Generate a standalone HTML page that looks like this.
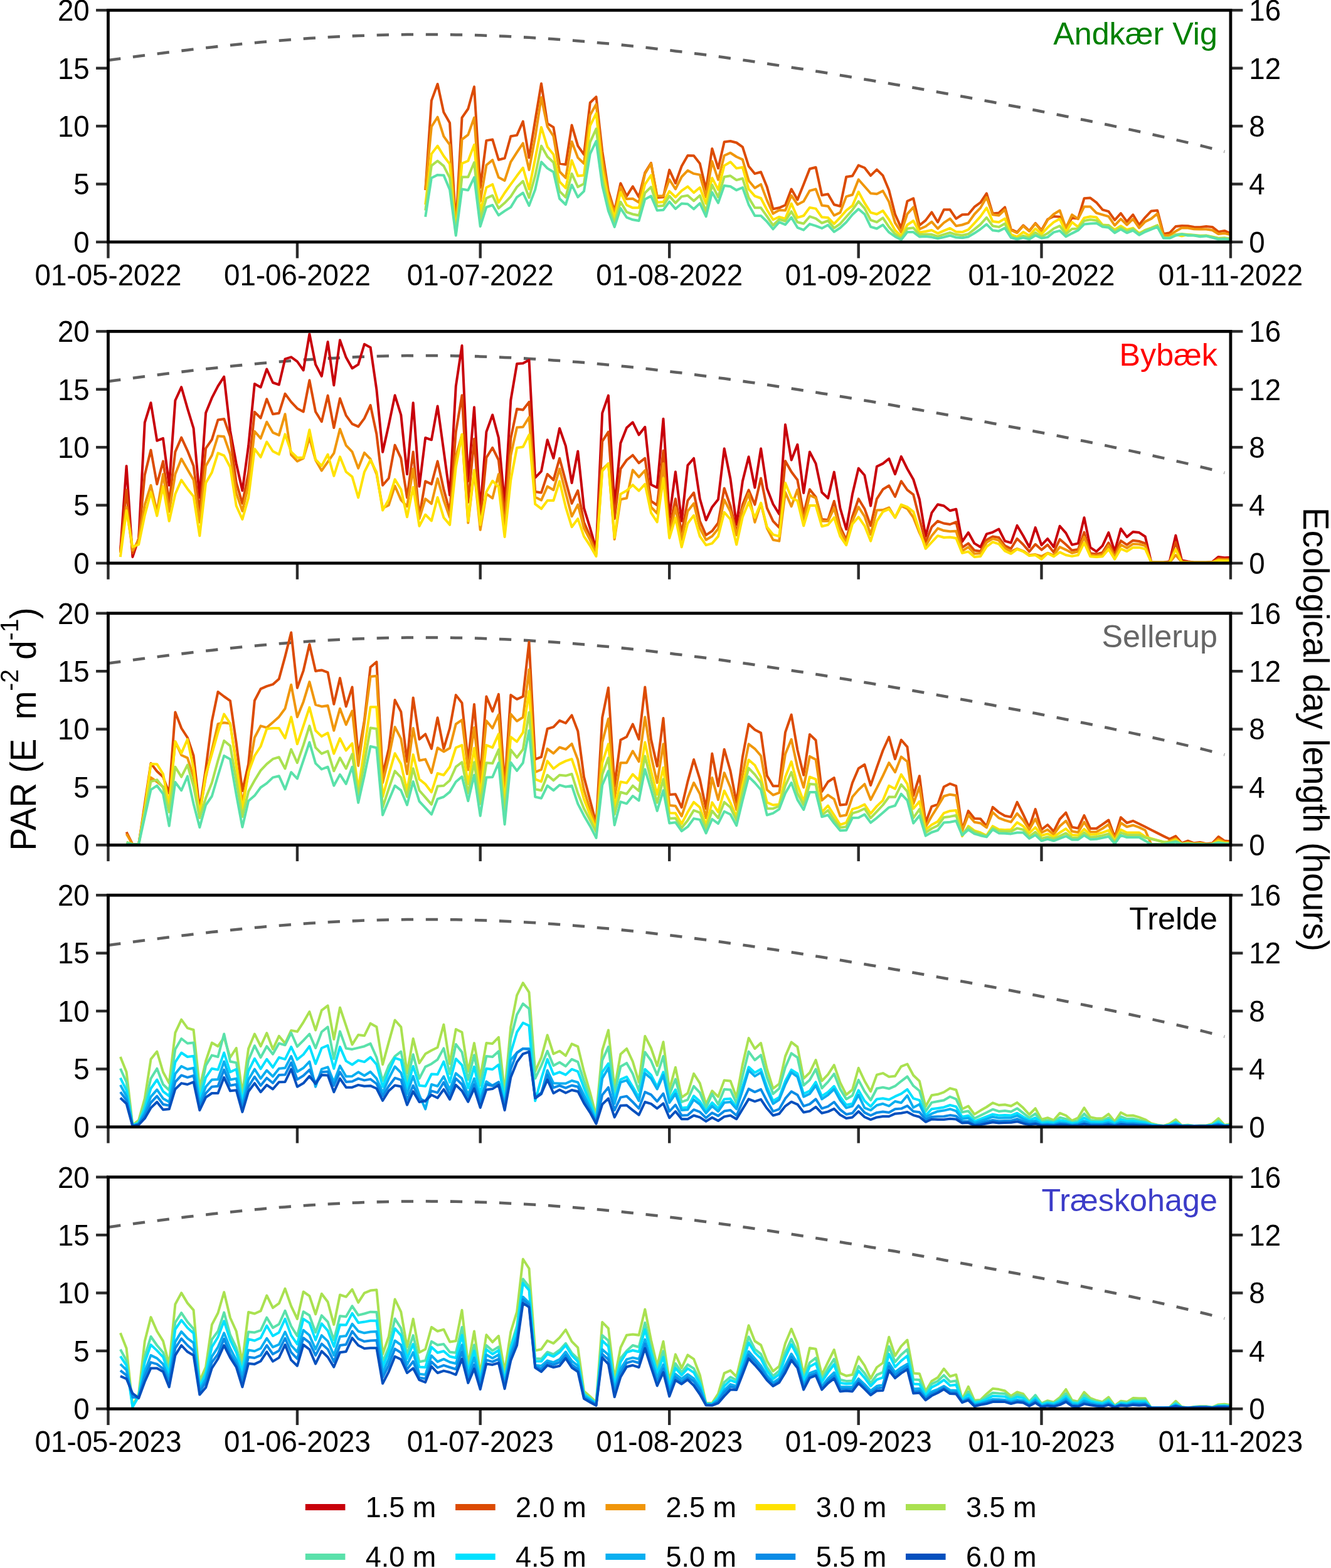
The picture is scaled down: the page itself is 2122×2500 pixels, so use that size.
<!DOCTYPE html>
<html lang="da"><head><meta charset="utf-8"><title>PAR og ecological day length</title>
<style>html,body{margin:0;padding:0;background:#fff}body{width:2122px;height:2500px;overflow:hidden}svg{display:block}text{font-family:"Liberation Sans",Arial,Helvetica,sans-serif;fill:#000}</style></head><body>
<svg width="2122" height="2500" viewBox="0 0 2122 2500">
<rect width="2122" height="2500" fill="#fff"/>
<g>
<clipPath id="c0"><rect x="172.45" y="16.3" width="1789.50" height="369.55"/></clipPath>
<polyline points="172.4,96.1 182.2,94.8 191.9,93.4 201.6,92.1 211.4,90.9 221.1,89.6 230.8,88.3 240.5,87.0 250.3,85.8 260.0,84.5 269.7,83.3 279.4,82.1 289.2,80.9 298.9,79.7 308.6,78.5 318.3,77.4 328.1,76.3 337.8,75.2 347.5,74.1 357.2,73.1 367.0,72.0 376.7,71.0 386.4,70.0 396.1,69.1 405.9,68.2 415.6,67.3 425.3,66.4 435.0,65.6 444.8,64.7 454.5,64.0 464.2,63.2 473.9,62.5 483.7,61.8 493.4,61.1 503.1,60.5 512.8,59.9 522.6,59.3 532.3,58.8 542.0,58.3 551.7,57.9 561.5,57.4 571.2,57.0 580.9,56.7 590.6,56.3 600.4,56.0 610.1,55.8 619.8,55.6 629.6,55.4 639.3,55.2 649.0,55.1 658.7,55.0 668.5,55.0 678.2,54.9 687.9,55.0 697.6,55.0 707.4,55.1 717.1,55.2 726.8,55.4 736.5,55.6 746.3,55.8 756.0,56.0 765.7,56.3 775.4,56.7 785.2,57.0 794.9,57.4 804.6,57.8 814.3,58.3 824.1,58.8 833.8,59.3 843.5,59.8 853.2,60.4 863.0,61.0 872.7,61.6 882.4,62.3 892.1,63.0 901.9,63.7 911.6,64.5 921.3,65.3 931.0,66.1 940.8,66.9 950.5,67.8 960.2,68.7 969.9,69.6 979.7,70.6 989.4,71.5 999.1,72.5 1008.8,73.6 1018.6,74.6 1028.3,75.7 1038.0,76.8 1047.7,77.9 1057.5,79.0 1067.2,80.2 1076.9,81.4 1086.7,82.6 1096.4,83.8 1106.1,85.1 1115.8,86.3 1125.6,87.6 1135.3,88.9 1145.0,90.2 1154.7,91.6 1164.5,92.9 1174.2,94.3 1183.9,95.7 1193.6,97.1 1203.4,98.5 1213.1,100.0 1222.8,101.4 1232.5,102.9 1242.3,104.4 1252.0,105.9 1261.7,107.4 1271.4,108.9 1281.2,110.4 1290.9,112.0 1300.6,113.5 1310.3,115.1 1320.1,116.7 1329.8,118.3 1339.5,119.9 1349.2,121.5 1359.0,123.1 1368.7,124.7 1378.4,126.4 1388.1,128.0 1397.9,129.7 1407.6,131.4 1417.3,133.0 1427.0,134.7 1436.8,136.4 1446.5,138.1 1456.2,139.8 1465.9,141.5 1475.7,143.3 1485.4,145.0 1495.1,146.7 1504.8,148.5 1514.6,150.3 1524.3,152.0 1534.0,153.8 1543.8,155.6 1553.5,157.4 1563.2,159.2 1572.9,161.0 1582.7,162.8 1592.4,164.7 1602.1,166.5 1611.8,168.4 1621.6,170.2 1631.3,172.1 1641.0,174.0 1650.7,175.8 1660.5,177.7 1670.2,179.6 1679.9,181.5 1689.6,183.5 1699.4,185.4 1709.1,187.4 1718.8,189.3 1728.5,191.3 1738.3,193.3 1748.0,195.3 1757.7,197.3 1767.4,199.3 1777.2,201.4 1786.9,203.4 1796.6,205.5 1806.3,207.6 1816.1,209.7 1825.8,211.8 1835.5,214.0 1845.2,216.2 1855.0,218.4 1864.7,220.6 1874.4,222.8 1884.1,225.1 1893.9,227.4 1903.6,229.7 1913.3,232.0 1923.0,234.4 1932.8,236.8 1942.5,239.3 1952.2,241.7" fill="none" stroke="#5f5f5f" stroke-width="4.55" stroke-dasharray="19.3 19.755" stroke-dashoffset="-0.8"/>
<g clip-path="url(#c0)" fill="none" stroke-width="4.0" stroke-linejoin="round">
<polyline points="678.2,303.2 687.9,160.4 697.6,134.0 707.4,179.1 717.1,196.1 726.8,360.2 736.5,187.6 746.3,173.5 756.0,138.3 765.7,299.0 775.4,224.1 785.2,222.4 794.9,254.8 804.6,252.2 814.3,217.3 824.1,215.6 833.8,193.5 843.5,251.4 853.2,191.8 863.0,133.2 872.7,196.9 882.4,202.9 892.1,260.7 901.9,262.4 911.6,199.5 921.3,232.6 931.0,246.3 940.8,163.8 950.5,154.4 960.2,241.2 969.9,304.1 979.7,336.4 989.4,292.2 999.1,312.6 1008.8,297.3 1018.6,314.3 1028.3,275.2 1038.0,259.9 1047.7,315.1 1057.5,314.3 1067.2,270.9 1076.9,292.2 1086.7,265.0 1096.4,248.0 1106.1,248.3 1115.8,260.7 1125.6,302.4 1135.3,236.9 1145.0,268.4 1154.7,226.2 1164.5,225.0 1174.2,227.5 1183.9,234.3 1193.6,265.0 1203.4,276.9 1213.1,274.3 1222.8,298.1 1232.5,333.3 1242.3,331.3 1252.0,327.0 1261.7,301.5 1271.4,318.5 1281.2,293.9 1290.9,269.2 1300.6,266.7 1310.3,311.2 1320.1,309.5 1329.8,326.2 1339.5,328.7 1349.2,282.0 1359.0,280.6 1368.7,263.6 1378.4,267.5 1388.1,279.9 1397.9,270.4 1407.6,279.9 1417.3,303.2 1427.0,341.5 1436.8,363.6 1446.5,320.8 1456.2,316.3 1465.9,359.3 1475.7,351.4 1485.4,338.4 1495.1,354.2 1504.8,334.3 1514.6,334.3 1524.3,348.6 1534.0,342.3 1543.8,341.8 1553.5,329.9 1563.2,322.8 1572.9,308.3 1582.7,340.6 1592.4,339.5 1602.1,330.4 1611.8,365.6 1621.6,370.4 1631.3,359.3 1641.0,367.9 1650.7,355.9 1660.5,367.0 1670.2,349.7 1679.9,344.9 1689.6,345.8 1699.4,361.9 1709.1,347.4 1718.8,348.6 1728.5,316.3 1738.3,315.6 1748.0,322.8 1757.7,334.3 1767.4,337.2 1777.2,350.8 1786.9,340.1 1796.6,353.4 1806.3,342.3 1816.1,358.5 1825.8,346.6 1835.5,336.4 1845.2,335.5 1855.0,373.0 1864.7,371.3 1874.4,361.0 1884.1,359.9 1893.9,360.2 1903.6,361.9 1913.3,362.2 1923.0,361.0 1932.8,361.9 1942.5,369.6 1952.2,367.9 1962.0,372.1" stroke="#DC4B03"/>
<polyline points="678.2,302.4 687.9,202.0 697.6,186.7 707.4,217.3 717.1,230.9 726.8,367.0 736.5,222.4 746.3,214.8 756.0,187.6 765.7,321.1 775.4,263.3 785.2,255.1 794.9,282.8 804.6,287.9 814.3,258.2 824.1,242.9 833.8,228.4 843.5,270.9 853.2,219.0 863.0,155.3 872.7,202.0 882.4,217.3 892.1,273.5 901.9,283.7 911.6,225.8 921.3,251.4 931.0,260.7 940.8,183.3 950.5,166.3 960.2,253.1 969.9,309.2 979.7,339.8 989.4,298.1 999.1,317.3 1008.8,316.8 1018.6,322.8 1028.3,276.9 1038.0,260.7 1047.7,312.6 1057.5,312.6 1067.2,286.2 1076.9,301.5 1086.7,282.0 1096.4,271.8 1106.1,276.9 1115.8,278.6 1125.6,314.3 1135.3,257.3 1145.0,286.7 1154.7,248.0 1164.5,243.7 1174.2,250.0 1183.9,254.4 1193.6,287.9 1203.4,299.8 1213.1,293.9 1222.8,319.4 1232.5,340.6 1242.3,335.0 1252.0,335.5 1261.7,311.7 1271.4,326.2 1281.2,321.1 1290.9,304.1 1300.6,301.5 1310.3,327.5 1320.1,328.7 1329.8,343.5 1339.5,338.9 1349.2,313.4 1359.0,310.5 1368.7,286.2 1378.4,297.3 1388.1,308.3 1397.9,309.2 1407.6,304.4 1417.3,321.9 1427.0,355.1 1436.8,370.4 1446.5,341.2 1456.2,330.4 1465.9,365.3 1475.7,361.0 1485.4,353.7 1495.1,364.5 1504.8,355.1 1514.6,348.6 1524.3,360.2 1534.0,358.5 1543.8,355.1 1553.5,341.5 1563.2,331.3 1572.9,314.6 1582.7,342.3 1592.4,343.5 1602.1,334.3 1611.8,367.0 1621.6,371.3 1631.3,360.2 1641.0,368.7 1650.7,356.5 1660.5,368.4 1670.2,350.8 1679.9,341.5 1689.6,335.5 1699.4,363.6 1709.1,342.3 1718.8,349.1 1728.5,329.6 1738.3,329.6 1748.0,339.5 1757.7,342.3 1767.4,345.2 1777.2,359.3 1786.9,349.1 1796.6,358.5 1806.3,349.1 1816.1,363.3 1825.8,353.4 1835.5,348.6 1845.2,340.6 1855.0,375.5 1864.7,374.7 1874.4,368.7 1884.1,363.3 1893.9,363.6 1903.6,365.3 1913.3,365.6 1923.0,365.6 1932.8,367.0 1942.5,373.0 1952.2,372.1 1962.0,374.1" stroke="#F0960A"/>
<polyline points="678.2,326.2 687.9,245.4 697.6,232.6 707.4,248.8 717.1,261.6 726.8,370.4 736.5,260.7 746.3,256.5 756.0,230.9 765.7,338.1 775.4,299.0 785.2,293.9 794.9,322.8 804.6,307.5 814.3,293.9 824.1,280.3 833.8,267.5 843.5,301.5 853.2,253.1 863.0,202.9 872.7,234.3 882.4,246.3 892.1,289.6 901.9,299.8 911.6,255.6 921.3,280.6 931.0,279.4 940.8,200.3 950.5,180.8 960.2,270.1 969.9,317.7 979.7,346.6 989.4,306.6 999.1,327.0 1008.8,331.3 1018.6,331.3 1028.3,293.9 1038.0,279.4 1047.7,322.8 1057.5,321.9 1067.2,304.9 1076.9,314.3 1086.7,304.1 1096.4,297.3 1106.1,307.1 1115.8,299.0 1125.6,324.5 1135.3,283.7 1145.0,302.4 1154.7,264.1 1164.5,258.2 1174.2,268.4 1183.9,266.7 1193.6,301.5 1203.4,312.6 1213.1,316.0 1222.8,334.7 1232.5,350.3 1242.3,345.8 1252.0,348.6 1261.7,324.5 1271.4,346.9 1281.2,344.0 1290.9,330.9 1300.6,332.6 1310.3,346.3 1320.1,346.9 1329.8,356.8 1339.5,346.6 1349.2,335.5 1359.0,327.9 1368.7,305.8 1378.4,323.6 1388.1,338.9 1397.9,341.5 1407.6,336.0 1417.3,350.0 1427.0,367.0 1436.8,376.4 1446.5,358.5 1456.2,352.0 1465.9,370.4 1475.7,369.0 1485.4,367.0 1495.1,372.1 1504.8,367.9 1514.6,363.9 1524.3,369.6 1534.0,370.1 1543.8,366.2 1553.5,355.9 1563.2,345.2 1572.9,331.3 1582.7,353.1 1592.4,354.2 1602.1,348.6 1611.8,373.8 1621.6,377.5 1631.3,370.1 1641.0,375.5 1650.7,364.5 1660.5,373.0 1670.2,362.8 1679.9,354.2 1689.6,349.1 1699.4,370.4 1709.1,354.2 1718.8,361.9 1728.5,347.4 1738.3,345.2 1748.0,346.6 1757.7,358.5 1767.4,359.3 1777.2,366.2 1786.9,360.2 1796.6,366.2 1806.3,363.6 1816.1,372.1 1825.8,367.0 1835.5,363.3 1845.2,359.3 1855.0,378.6 1864.7,378.9 1874.4,374.1 1884.1,376.4 1893.9,374.1 1903.6,375.2 1913.3,376.4 1923.0,375.8 1932.8,378.1 1942.5,380.3 1952.2,379.8 1962.0,381.5" stroke="#FFE200"/>
<polyline points="678.2,335.5 687.9,264.1 697.6,256.5 707.4,264.6 717.1,283.7 726.8,373.0 736.5,282.3 746.3,282.3 756.0,259.0 765.7,350.0 775.4,316.0 785.2,311.7 794.9,332.1 804.6,323.6 814.3,313.4 824.1,298.1 833.8,288.8 843.5,315.1 853.2,280.3 863.0,232.6 872.7,249.7 882.4,259.0 892.1,304.9 901.9,314.6 911.6,276.9 921.3,298.1 931.0,293.0 940.8,226.7 950.5,205.4 960.2,283.7 969.9,327.9 979.7,355.1 989.4,321.9 999.1,338.1 1008.8,341.5 1018.6,343.5 1028.3,307.5 1038.0,298.1 1047.7,328.7 1057.5,327.9 1067.2,312.6 1076.9,323.6 1086.7,313.4 1096.4,311.7 1106.1,320.2 1115.8,311.7 1125.6,337.2 1135.3,294.7 1145.0,314.3 1154.7,282.0 1164.5,280.3 1174.2,287.1 1183.9,284.5 1193.6,315.1 1203.4,331.3 1213.1,331.3 1222.8,344.9 1232.5,359.3 1242.3,349.7 1252.0,352.5 1261.7,337.2 1271.4,354.2 1281.2,356.5 1290.9,345.2 1300.6,348.3 1310.3,355.6 1320.1,352.0 1329.8,363.6 1339.5,356.8 1349.2,345.8 1359.0,334.7 1368.7,321.1 1378.4,332.1 1388.1,350.8 1397.9,354.2 1407.6,347.4 1417.3,361.9 1427.0,373.0 1436.8,379.8 1446.5,364.5 1456.2,363.3 1465.9,374.1 1475.7,373.5 1485.4,373.8 1495.1,376.9 1504.8,373.8 1514.6,370.8 1524.3,374.1 1534.0,375.2 1543.8,373.0 1553.5,365.6 1563.2,357.6 1572.9,346.9 1582.7,360.2 1592.4,361.9 1602.1,356.5 1611.8,376.9 1621.6,380.3 1631.3,375.8 1641.0,378.9 1650.7,370.8 1660.5,377.2 1670.2,372.1 1679.9,364.5 1689.6,360.2 1699.4,373.0 1709.1,365.0 1718.8,364.5 1728.5,352.0 1738.3,350.3 1748.0,351.4 1757.7,359.3 1767.4,359.3 1777.2,368.4 1786.9,362.8 1796.6,368.4 1806.3,364.5 1816.1,373.0 1825.8,367.0 1835.5,363.6 1845.2,359.3 1855.0,378.9 1864.7,378.9 1874.4,374.1 1884.1,373.0 1893.9,374.1 1903.6,374.7 1913.3,375.8 1923.0,375.5 1932.8,377.5 1942.5,379.8 1952.2,379.2 1962.0,380.9" stroke="#AAE150"/>
<polyline points="678.2,345.8 687.9,283.7 697.6,278.9 707.4,279.4 717.1,302.4 726.8,375.5 736.5,301.5 746.3,303.2 756.0,282.8 765.7,361.0 775.4,330.4 785.2,327.0 794.9,343.2 804.6,336.4 814.3,330.4 824.1,314.3 833.8,307.5 843.5,327.9 853.2,302.4 863.0,258.2 872.7,268.4 882.4,274.3 892.1,316.8 901.9,326.2 911.6,294.7 921.3,314.3 931.0,304.9 940.8,245.4 950.5,225.0 960.2,295.6 969.9,336.4 979.7,361.9 989.4,332.1 999.1,346.6 1008.8,350.3 1018.6,352.0 1028.3,317.7 1038.0,312.6 1047.7,335.5 1057.5,334.7 1067.2,321.6 1076.9,333.0 1086.7,324.5 1096.4,325.3 1106.1,333.3 1115.8,324.1 1125.6,345.2 1135.3,306.6 1145.0,323.6 1154.7,295.9 1164.5,297.3 1174.2,303.2 1183.9,299.0 1193.6,326.2 1203.4,344.0 1213.1,344.0 1222.8,353.4 1232.5,365.3 1242.3,354.2 1252.0,358.2 1261.7,346.6 1271.4,362.8 1281.2,366.7 1290.9,357.1 1300.6,360.2 1310.3,363.9 1320.1,358.8 1329.8,369.6 1339.5,363.3 1349.2,354.2 1359.0,342.3 1368.7,333.3 1378.4,341.5 1388.1,361.6 1397.9,364.5 1407.6,358.5 1417.3,370.4 1427.0,377.2 1436.8,382.3 1446.5,370.1 1456.2,370.1 1465.9,377.5 1475.7,376.9 1485.4,378.1 1495.1,380.3 1504.8,378.1 1514.6,375.5 1524.3,378.6 1534.0,379.2 1543.8,377.5 1553.5,371.8 1563.2,365.3 1572.9,357.6 1582.7,367.3 1592.4,368.4 1602.1,363.6 1611.8,378.9 1621.6,381.5 1631.3,378.9 1641.0,381.5 1650.7,375.2 1660.5,379.8 1670.2,378.1 1679.9,370.4 1689.6,367.9 1699.4,377.2 1709.1,372.1 1718.8,367.3 1728.5,357.6 1738.3,356.5 1748.0,355.9 1757.7,361.6 1767.4,362.8 1777.2,371.3 1786.9,365.6 1796.6,371.3 1806.3,367.3 1816.1,374.7 1825.8,369.6 1835.5,365.6 1845.2,361.9 1855.0,379.8 1864.7,379.8 1874.4,375.5 1884.1,373.5 1893.9,375.5 1903.6,375.5 1913.3,377.2 1923.0,376.4 1932.8,378.9 1942.5,381.5 1952.2,380.9 1962.0,382.3" stroke="#5AE1AA"/>
</g>
<line x1="153.05" y1="385.85" x2="172.45" y2="385.85" stroke="#2b2b2b" stroke-width="4.4"/>
<line x1="1961.95" y1="385.85" x2="1981.45" y2="385.85" stroke="#2b2b2b" stroke-width="4.4"/>
<text transform="translate(142.70,402.70) scale(1,1.05)" font-size="45.7" text-anchor="end">0</text>
<text transform="translate(1991.35,402.70) scale(1,1.05)" font-size="45.7">0</text>
<line x1="153.05" y1="293.46" x2="172.45" y2="293.46" stroke="#2b2b2b" stroke-width="4.4"/>
<line x1="1961.95" y1="293.46" x2="1981.45" y2="293.46" stroke="#2b2b2b" stroke-width="4.4"/>
<text transform="translate(142.70,310.31) scale(1,1.05)" font-size="45.7" text-anchor="end">5</text>
<text transform="translate(1991.35,310.31) scale(1,1.05)" font-size="45.7">4</text>
<line x1="153.05" y1="201.08" x2="172.45" y2="201.08" stroke="#2b2b2b" stroke-width="4.4"/>
<line x1="1961.95" y1="201.08" x2="1981.45" y2="201.08" stroke="#2b2b2b" stroke-width="4.4"/>
<text transform="translate(142.70,217.93) scale(1,1.05)" font-size="45.7" text-anchor="end">10</text>
<text transform="translate(1991.35,217.93) scale(1,1.05)" font-size="45.7">8</text>
<line x1="153.05" y1="108.69" x2="172.45" y2="108.69" stroke="#2b2b2b" stroke-width="4.4"/>
<line x1="1961.95" y1="108.69" x2="1981.45" y2="108.69" stroke="#2b2b2b" stroke-width="4.4"/>
<text transform="translate(142.70,125.54) scale(1,1.05)" font-size="45.7" text-anchor="end">15</text>
<text transform="translate(1991.35,125.54) scale(1,1.05)" font-size="45.7">12</text>
<line x1="153.05" y1="16.30" x2="172.45" y2="16.30" stroke="#2b2b2b" stroke-width="4.4"/>
<line x1="1961.95" y1="16.30" x2="1981.45" y2="16.30" stroke="#2b2b2b" stroke-width="4.4"/>
<text transform="translate(142.70,33.15) scale(1,1.05)" font-size="45.7" text-anchor="end">20</text>
<text transform="translate(1991.35,33.15) scale(1,1.05)" font-size="45.7">16</text>
<line x1="172.45" y1="385.85" x2="172.45" y2="411.65" stroke="#2b2b2b" stroke-width="4.4"/>
<line x1="473.94" y1="385.85" x2="473.94" y2="411.65" stroke="#2b2b2b" stroke-width="4.4"/>
<line x1="765.71" y1="385.85" x2="765.71" y2="411.65" stroke="#2b2b2b" stroke-width="4.4"/>
<line x1="1067.20" y1="385.85" x2="1067.20" y2="411.65" stroke="#2b2b2b" stroke-width="4.4"/>
<line x1="1368.69" y1="385.85" x2="1368.69" y2="411.65" stroke="#2b2b2b" stroke-width="4.4"/>
<line x1="1660.46" y1="385.85" x2="1660.46" y2="411.65" stroke="#2b2b2b" stroke-width="4.4"/>
<line x1="1961.95" y1="385.85" x2="1961.95" y2="411.65" stroke="#2b2b2b" stroke-width="4.4"/>
<rect x="172.45" y="16.3" width="1789.50" height="369.55" fill="none" stroke="#000" stroke-width="4.8"/>
<text transform="translate(1941.00,70.60)" font-size="50.3" text-anchor="end" style="fill:#008000">Andkær Vig</text>
<text transform="translate(172.45,454.75) scale(1,1.05)" font-size="45.7" text-anchor="middle">01-05-2022</text>
<text transform="translate(473.94,454.75) scale(1,1.05)" font-size="45.7" text-anchor="middle">01-06-2022</text>
<text transform="translate(765.71,454.75) scale(1,1.05)" font-size="45.7" text-anchor="middle">01-07-2022</text>
<text transform="translate(1067.20,454.75) scale(1,1.05)" font-size="45.7" text-anchor="middle">01-08-2022</text>
<text transform="translate(1368.69,454.75) scale(1,1.05)" font-size="45.7" text-anchor="middle">01-09-2022</text>
<text transform="translate(1660.46,454.75) scale(1,1.05)" font-size="45.7" text-anchor="middle">01-10-2022</text>
<text transform="translate(1961.95,454.75) scale(1,1.05)" font-size="45.7" text-anchor="middle">01-11-2022</text>
</g>
<g>
<clipPath id="c1"><rect x="172.45" y="528.35" width="1789.50" height="369.55"/></clipPath>
<polyline points="172.4,608.1 182.2,606.8 191.9,605.5 201.6,604.2 211.4,602.9 221.1,601.6 230.8,600.3 240.5,599.1 250.3,597.8 260.0,596.6 269.7,595.3 279.4,594.1 289.2,592.9 298.9,591.8 308.6,590.6 318.3,589.5 328.1,588.3 337.8,587.2 347.5,586.2 357.2,585.1 367.0,584.1 376.7,583.1 386.4,582.1 396.1,581.1 405.9,580.2 415.6,579.3 425.3,578.4 435.0,577.6 444.8,576.8 454.5,576.0 464.2,575.3 473.9,574.5 483.7,573.8 493.4,573.2 503.1,572.6 512.8,572.0 522.6,571.4 532.3,570.9 542.0,570.4 551.7,569.9 561.5,569.5 571.2,569.1 580.9,568.7 590.6,568.4 600.4,568.1 610.1,567.8 619.8,567.6 629.6,567.4 639.3,567.3 649.0,567.1 658.7,567.1 668.5,567.0 678.2,567.0 687.9,567.0 697.6,567.1 707.4,567.2 717.1,567.3 726.8,567.4 736.5,567.6 746.3,567.8 756.0,568.1 765.7,568.4 775.4,568.7 785.2,569.1 794.9,569.4 804.6,569.9 814.3,570.3 824.1,570.8 833.8,571.3 843.5,571.9 853.2,572.4 863.0,573.1 872.7,573.7 882.4,574.4 892.1,575.1 901.9,575.8 911.6,576.6 921.3,577.3 931.0,578.1 940.8,579.0 950.5,579.9 960.2,580.8 969.9,581.7 979.7,582.6 989.4,583.6 999.1,584.6 1008.8,585.6 1018.6,586.7 1028.3,587.7 1038.0,588.8 1047.7,590.0 1057.5,591.1 1067.2,592.3 1076.9,593.4 1086.7,594.6 1096.4,595.9 1106.1,597.1 1115.8,598.4 1125.6,599.7 1135.3,601.0 1145.0,602.3 1154.7,603.6 1164.5,605.0 1174.2,606.4 1183.9,607.8 1193.6,609.2 1203.4,610.6 1213.1,612.0 1222.8,613.5 1232.5,614.9 1242.3,616.4 1252.0,617.9 1261.7,619.4 1271.4,620.9 1281.2,622.5 1290.9,624.0 1300.6,625.6 1310.3,627.2 1320.1,628.7 1329.8,630.3 1339.5,631.9 1349.2,633.5 1359.0,635.2 1368.7,636.8 1378.4,638.4 1388.1,640.1 1397.9,641.7 1407.6,643.4 1417.3,645.1 1427.0,646.8 1436.8,648.5 1446.5,650.2 1456.2,651.9 1465.9,653.6 1475.7,655.3 1485.4,657.0 1495.1,658.8 1504.8,660.5 1514.6,662.3 1524.3,664.1 1534.0,665.9 1543.8,667.7 1553.5,669.5 1563.2,671.3 1572.9,673.1 1582.7,674.9 1592.4,676.7 1602.1,678.6 1611.8,680.4 1621.6,682.3 1631.3,684.1 1641.0,686.0 1650.7,687.9 1660.5,689.8 1670.2,691.7 1679.9,693.6 1689.6,695.5 1699.4,697.5 1709.1,699.4 1718.8,701.4 1728.5,703.3 1738.3,705.3 1748.0,707.3 1757.7,709.3 1767.4,711.4 1777.2,713.4 1786.9,715.5 1796.6,717.5 1806.3,719.6 1816.1,721.7 1825.8,723.9 1835.5,726.0 1845.2,728.2 1855.0,730.4 1864.7,732.6 1874.4,734.9 1884.1,737.1 1893.9,739.4 1903.6,741.7 1913.3,744.1 1923.0,746.5 1932.8,748.9 1942.5,751.3 1952.2,753.8" fill="none" stroke="#5f5f5f" stroke-width="4.55" stroke-dasharray="19.3 19.755" stroke-dashoffset="-0.8"/>
<g clip-path="url(#c1)" fill="none" stroke-width="4.0" stroke-linejoin="round">
<polyline points="191.9,878.5 201.6,742.9 211.4,887.9 221.1,858.9 230.8,673.7 240.5,642.2 250.3,702.7 260.0,698.9 269.7,773.7 279.4,638.5 289.2,617.2 298.9,651.2 308.6,683.0 318.3,793.4 328.1,658.3 337.8,634.4 347.5,615.7 357.2,600.7 367.0,686.8 376.7,739.1 386.4,782.2 396.1,711.1 405.9,611.9 415.6,617.5 425.3,588.5 435.0,610.0 444.8,613.4 454.5,572.3 464.2,569.3 473.9,576.4 483.7,590.4 493.4,532.4 503.1,581.1 512.8,599.8 522.6,545.0 532.3,614.2 542.0,542.3 551.7,569.8 561.5,587.2 571.2,581.1 580.9,548.7 590.6,553.9 600.4,621.3 610.1,720.8 619.8,677.4 629.6,630.3 639.3,661.5 649.0,756.0 658.7,642.2 668.5,775.6 678.2,698.0 687.9,701.3 697.6,647.5 707.4,718.6 717.1,789.6 726.8,615.7 736.5,551.1 746.3,767.2 756.0,649.3 765.7,815.8 775.4,688.6 785.2,661.5 794.9,698.0 804.6,804.6 814.3,638.1 824.1,580.1 833.8,579.2 843.5,574.1 853.2,761.6 863.0,751.3 872.7,701.3 882.4,730.7 892.1,683.0 901.9,711.1 911.6,770.0 921.3,719.5 931.0,810.2 940.8,842.0 950.5,875.7 960.2,658.7 969.9,630.6 979.7,808.4 989.4,706.4 999.1,682.1 1008.8,673.3 1018.6,693.3 1028.3,680.8 1038.0,772.8 1047.7,777.5 1057.5,667.7 1067.2,825.2 1076.9,752.2 1086.7,830.8 1096.4,741.9 1106.1,730.7 1115.8,795.3 1125.6,829.3 1135.3,808.4 1145.0,796.2 1154.7,715.2 1164.5,763.5 1174.2,836.4 1183.9,767.2 1193.6,728.3 1203.4,777.5 1213.1,715.2 1222.8,778.8 1232.5,803.7 1242.3,819.6 1252.0,677.0 1261.7,733.5 1271.4,708.8 1281.2,785.9 1290.9,720.4 1300.6,739.1 1310.3,785.0 1320.1,794.3 1329.8,752.6 1339.5,810.2 1349.2,843.9 1359.0,787.8 1368.7,746.6 1378.4,757.8 1388.1,806.5 1397.9,743.8 1407.6,739.1 1417.3,731.3 1427.0,756.0 1436.8,727.9 1446.5,747.5 1456.2,764.4 1465.9,796.2 1475.7,855.1 1485.4,817.7 1495.1,804.2 1504.8,806.5 1514.6,814.3 1524.3,811.7 1534.0,863.5 1543.8,849.1 1553.5,866.4 1563.2,872.3 1572.9,851.4 1582.7,848.6 1592.4,843.5 1602.1,862.6 1611.8,865.4 1621.6,837.9 1631.3,854.2 1641.0,872.3 1650.7,841.1 1660.5,869.1 1670.2,858.9 1679.9,872.0 1689.6,838.7 1699.4,849.9 1709.1,868.6 1718.8,866.4 1728.5,825.2 1738.3,872.9 1748.0,879.4 1757.7,870.1 1767.4,849.1 1777.2,879.1 1786.9,843.0 1796.6,856.1 1806.3,848.0 1816.1,849.1 1825.8,855.5 1835.5,896.8 1845.2,896.8 1855.0,896.8 1864.7,895.3 1874.4,853.6 1884.1,893.5 1893.9,895.3 1903.6,896.8 1913.3,896.8 1923.0,896.8 1932.8,895.9 1942.5,887.9 1952.2,889.2 1962.0,888.8" stroke="#C8000A"/>
<polyline points="191.9,879.4 201.6,781.2 211.4,882.2 221.1,858.9 230.8,756.9 240.5,717.6 250.3,771.9 260.0,735.4 269.7,800.9 279.4,720.4 289.2,697.6 298.9,718.6 308.6,742.9 318.3,815.8 328.1,714.8 337.8,700.8 347.5,669.5 357.2,668.0 367.0,696.1 376.7,769.1 386.4,802.7 396.1,754.1 405.9,656.8 415.6,666.5 425.3,636.2 435.0,660.2 444.8,658.7 454.5,627.8 464.2,640.9 473.9,651.2 483.7,656.5 493.4,606.3 503.1,656.5 512.8,672.2 522.6,630.6 532.3,682.1 542.0,635.3 551.7,662.4 561.5,675.9 571.2,680.2 580.9,667.1 590.6,646.0 600.4,692.4 610.1,773.7 619.8,762.5 629.6,709.6 639.3,730.7 649.0,793.4 658.7,720.4 668.5,823.3 678.2,767.2 687.9,771.9 697.6,735.4 707.4,780.3 717.1,815.8 726.8,688.6 736.5,630.3 746.3,800.9 756.0,699.8 765.7,830.8 775.4,729.8 785.2,713.9 794.9,733.5 804.6,823.3 814.3,698.9 824.1,652.1 833.8,653.5 843.5,640.9 853.2,784.0 863.0,785.5 872.7,756.0 882.4,765.3 892.1,730.7 901.9,767.2 911.6,802.7 921.3,782.2 931.0,832.7 940.8,855.1 950.5,879.4 960.2,703.6 969.9,688.6 979.7,827.1 989.4,747.5 999.1,733.5 1008.8,725.7 1018.6,738.2 1028.3,730.7 1038.0,799.0 1047.7,805.5 1057.5,718.6 1067.2,842.0 1076.9,795.3 1086.7,849.5 1096.4,798.1 1106.1,785.5 1115.8,830.8 1125.6,853.2 1135.3,846.7 1145.0,833.6 1154.7,778.4 1164.5,806.5 1174.2,849.5 1183.9,804.6 1193.6,781.2 1203.4,804.6 1213.1,762.5 1222.8,810.2 1232.5,830.8 1242.3,841.1 1252.0,735.0 1261.7,752.2 1271.4,765.3 1281.2,819.6 1290.9,780.3 1300.6,792.4 1310.3,828.0 1320.1,828.9 1329.8,799.0 1339.5,840.2 1349.2,860.7 1359.0,823.3 1368.7,795.3 1378.4,811.2 1388.1,838.3 1397.9,795.3 1407.6,780.3 1417.3,774.3 1427.0,791.9 1436.8,767.2 1446.5,781.2 1456.2,788.7 1465.9,827.1 1475.7,864.5 1485.4,840.2 1495.1,830.8 1504.8,834.5 1514.6,836.0 1524.3,832.3 1534.0,872.9 1543.8,866.4 1553.5,877.6 1563.2,879.1 1572.9,860.7 1582.7,855.5 1592.4,857.0 1602.1,870.1 1611.8,874.8 1621.6,858.9 1631.3,868.2 1641.0,879.4 1650.7,867.8 1660.5,876.6 1670.2,868.6 1679.9,880.4 1689.6,859.8 1699.4,868.2 1709.1,877.6 1718.8,876.1 1728.5,848.6 1738.3,882.2 1748.0,883.6 1757.7,880.9 1767.4,865.4 1777.2,884.1 1786.9,862.2 1796.6,868.6 1806.3,861.7 1816.1,863.0 1825.8,866.4 1835.5,896.8 1845.2,896.8 1855.0,896.8 1864.7,896.3 1874.4,864.5 1884.1,895.3 1893.9,896.3 1903.6,896.8 1913.3,896.8 1923.0,896.8 1932.8,896.3 1942.5,890.3 1952.2,891.0 1962.0,890.7" stroke="#DC4B03"/>
<polyline points="191.9,881.3 201.6,808.4 211.4,877.6 221.1,860.7 230.8,804.6 240.5,773.7 250.3,815.8 260.0,756.0 269.7,815.8 279.4,756.0 289.2,731.6 298.9,748.5 308.6,765.3 318.3,832.7 328.1,742.9 337.8,726.0 347.5,695.2 357.2,696.1 367.0,724.2 376.7,785.9 386.4,814.9 396.1,772.8 405.9,687.7 415.6,698.9 425.3,672.7 435.0,689.6 444.8,693.9 454.5,660.2 464.2,725.1 473.9,735.4 483.7,730.7 493.4,698.0 503.1,733.5 512.8,750.4 522.6,736.3 532.3,722.7 542.0,684.0 551.7,710.1 561.5,720.4 571.2,746.6 580.9,721.9 590.6,732.0 600.4,756.0 610.1,810.2 619.8,805.5 629.6,774.7 639.3,797.1 649.0,807.4 658.7,747.5 668.5,827.1 678.2,795.3 687.9,803.1 697.6,763.1 707.4,797.5 717.1,825.2 726.8,727.9 736.5,693.3 746.3,833.6 756.0,751.3 765.7,844.8 775.4,787.4 785.2,794.3 794.9,756.0 804.6,842.0 814.3,726.0 824.1,681.5 833.8,680.8 843.5,665.2 853.2,792.4 863.0,797.5 872.7,775.6 882.4,781.2 892.1,747.5 901.9,785.9 911.6,823.3 921.3,804.6 931.0,842.0 940.8,860.7 950.5,883.2 960.2,748.5 969.9,739.1 979.7,859.8 989.4,796.2 999.1,794.3 1008.8,749.4 1018.6,760.6 1028.3,750.0 1038.0,808.4 1047.7,818.6 1057.5,739.1 1067.2,853.2 1076.9,809.3 1086.7,860.7 1096.4,814.9 1106.1,802.7 1115.8,842.0 1125.6,860.7 1135.3,855.1 1145.0,843.0 1154.7,796.8 1164.5,815.8 1174.2,853.2 1183.9,812.1 1193.6,786.8 1203.4,832.7 1213.1,802.7 1222.8,842.0 1232.5,860.7 1242.3,862.6 1252.0,785.0 1261.7,807.4 1271.4,780.7 1281.2,830.8 1290.9,789.6 1300.6,793.8 1310.3,830.8 1320.1,830.8 1329.8,810.2 1339.5,845.8 1349.2,864.5 1359.0,830.8 1368.7,808.4 1378.4,823.3 1388.1,852.3 1397.9,813.6 1407.6,813.0 1417.3,809.3 1427.0,825.2 1436.8,806.5 1446.5,811.2 1456.2,825.2 1465.9,849.5 1475.7,870.1 1485.4,854.2 1495.1,842.4 1504.8,846.1 1514.6,847.3 1524.3,846.7 1534.0,878.5 1543.8,872.3 1553.5,882.8 1563.2,882.2 1572.9,864.9 1582.7,858.9 1592.4,861.7 1602.1,873.8 1611.8,879.4 1621.6,874.8 1631.3,878.5 1641.0,885.0 1650.7,884.1 1660.5,886.9 1670.2,881.7 1679.9,885.4 1689.6,872.0 1699.4,876.6 1709.1,881.7 1718.8,879.4 1728.5,856.1 1738.3,885.0 1748.0,886.0 1757.7,884.1 1767.4,869.7 1777.2,887.9 1786.9,868.6 1796.6,873.8 1806.3,867.3 1816.1,867.8 1825.8,870.1 1835.5,896.8 1845.2,896.8 1855.0,896.8 1864.7,896.6 1874.4,885.0 1884.1,896.3 1893.9,896.6 1903.6,896.8 1913.3,896.8 1923.0,896.8 1932.8,896.6 1942.5,892.2 1952.2,892.5 1962.0,892.5" stroke="#F0960A"/>
<polyline points="191.9,887.9 201.6,814.0 211.4,872.0 221.1,868.2 230.8,821.4 240.5,785.0 250.3,822.4 260.0,775.6 269.7,830.8 279.4,787.8 289.2,765.3 298.9,779.4 308.6,791.5 318.3,854.2 328.1,770.0 337.8,753.2 347.5,722.3 357.2,726.4 367.0,744.8 376.7,806.5 386.4,828.0 396.1,793.4 405.9,715.8 415.6,728.8 425.3,704.5 435.0,719.5 444.8,724.5 454.5,692.4 464.2,720.4 473.9,729.8 483.7,729.8 493.4,685.3 503.1,732.6 512.8,742.9 522.6,724.5 532.3,758.8 542.0,728.3 551.7,752.2 561.5,760.1 571.2,793.4 580.9,752.6 590.6,733.5 600.4,753.2 610.1,813.6 619.8,796.2 629.6,764.4 639.3,780.3 649.0,824.3 658.7,776.9 668.5,838.7 678.2,820.5 687.9,830.4 697.6,793.0 707.4,825.2 717.1,836.8 726.8,744.8 736.5,692.4 746.3,830.8 756.0,749.4 765.7,836.8 775.4,784.4 785.2,766.8 794.9,776.2 804.6,856.1 814.3,765.3 824.1,713.9 833.8,712.6 843.5,693.3 853.2,803.7 863.0,811.2 872.7,798.1 882.4,798.1 892.1,767.2 901.9,808.4 911.6,840.2 921.3,827.1 931.0,855.1 940.8,870.1 950.5,886.9 960.2,751.3 969.9,739.1 979.7,857.0 989.4,787.8 999.1,782.2 1008.8,773.2 1018.6,782.5 1028.3,771.9 1038.0,817.7 1047.7,832.3 1057.5,762.5 1067.2,857.9 1076.9,825.6 1086.7,872.3 1096.4,834.5 1106.1,821.8 1115.8,855.1 1125.6,869.1 1135.3,866.4 1145.0,855.1 1154.7,816.8 1164.5,828.0 1174.2,868.2 1183.9,824.3 1193.6,800.9 1203.4,825.2 1213.1,801.8 1222.8,840.2 1232.5,852.3 1242.3,855.1 1252.0,770.0 1261.7,793.4 1271.4,798.6 1281.2,838.3 1290.9,806.1 1300.6,806.1 1310.3,839.2 1320.1,836.8 1329.8,825.2 1339.5,855.1 1349.2,869.1 1359.0,835.5 1368.7,824.3 1378.4,838.3 1388.1,862.6 1397.9,830.8 1407.6,815.8 1417.3,811.7 1427.0,825.2 1436.8,804.6 1446.5,808.4 1456.2,815.8 1465.9,845.8 1475.7,874.8 1485.4,864.5 1495.1,854.2 1504.8,857.0 1514.6,856.6 1524.3,857.9 1534.0,881.7 1543.8,879.4 1553.5,887.9 1563.2,886.9 1572.9,871.6 1582.7,864.1 1592.4,867.3 1602.1,878.5 1611.8,882.8 1621.6,875.7 1631.3,879.4 1641.0,886.0 1650.7,885.0 1660.5,891.6 1670.2,882.2 1679.9,887.3 1689.6,880.4 1699.4,885.0 1709.1,886.9 1718.8,885.0 1728.5,865.4 1738.3,887.3 1748.0,887.9 1757.7,887.3 1767.4,875.7 1777.2,891.6 1786.9,874.8 1796.6,879.1 1806.3,872.9 1816.1,872.9 1825.8,875.3 1835.5,896.8 1845.2,896.8 1855.0,896.8 1864.7,896.6 1874.4,875.7 1884.1,896.3 1893.9,896.6 1903.6,896.8 1913.3,896.8 1923.0,896.8 1932.8,896.6 1942.5,893.5 1952.2,894.0 1962.0,894.0" stroke="#FFE200"/>
</g>
<line x1="153.05" y1="897.90" x2="172.45" y2="897.90" stroke="#2b2b2b" stroke-width="4.4"/>
<line x1="1961.95" y1="897.90" x2="1981.45" y2="897.90" stroke="#2b2b2b" stroke-width="4.4"/>
<text transform="translate(142.70,914.75) scale(1,1.05)" font-size="45.7" text-anchor="end">0</text>
<text transform="translate(1991.35,914.75) scale(1,1.05)" font-size="45.7">0</text>
<line x1="153.05" y1="805.51" x2="172.45" y2="805.51" stroke="#2b2b2b" stroke-width="4.4"/>
<line x1="1961.95" y1="805.51" x2="1981.45" y2="805.51" stroke="#2b2b2b" stroke-width="4.4"/>
<text transform="translate(142.70,822.36) scale(1,1.05)" font-size="45.7" text-anchor="end">5</text>
<text transform="translate(1991.35,822.36) scale(1,1.05)" font-size="45.7">4</text>
<line x1="153.05" y1="713.13" x2="172.45" y2="713.13" stroke="#2b2b2b" stroke-width="4.4"/>
<line x1="1961.95" y1="713.13" x2="1981.45" y2="713.13" stroke="#2b2b2b" stroke-width="4.4"/>
<text transform="translate(142.70,729.98) scale(1,1.05)" font-size="45.7" text-anchor="end">10</text>
<text transform="translate(1991.35,729.98) scale(1,1.05)" font-size="45.7">8</text>
<line x1="153.05" y1="620.74" x2="172.45" y2="620.74" stroke="#2b2b2b" stroke-width="4.4"/>
<line x1="1961.95" y1="620.74" x2="1981.45" y2="620.74" stroke="#2b2b2b" stroke-width="4.4"/>
<text transform="translate(142.70,637.59) scale(1,1.05)" font-size="45.7" text-anchor="end">15</text>
<text transform="translate(1991.35,637.59) scale(1,1.05)" font-size="45.7">12</text>
<line x1="153.05" y1="528.35" x2="172.45" y2="528.35" stroke="#2b2b2b" stroke-width="4.4"/>
<line x1="1961.95" y1="528.35" x2="1981.45" y2="528.35" stroke="#2b2b2b" stroke-width="4.4"/>
<text transform="translate(142.70,545.20) scale(1,1.05)" font-size="45.7" text-anchor="end">20</text>
<text transform="translate(1991.35,545.20) scale(1,1.05)" font-size="45.7">16</text>
<line x1="172.45" y1="897.9000000000001" x2="172.45" y2="923.70" stroke="#2b2b2b" stroke-width="4.4"/>
<line x1="473.94" y1="897.9000000000001" x2="473.94" y2="923.70" stroke="#2b2b2b" stroke-width="4.4"/>
<line x1="765.71" y1="897.9000000000001" x2="765.71" y2="923.70" stroke="#2b2b2b" stroke-width="4.4"/>
<line x1="1067.20" y1="897.9000000000001" x2="1067.20" y2="923.70" stroke="#2b2b2b" stroke-width="4.4"/>
<line x1="1368.69" y1="897.9000000000001" x2="1368.69" y2="923.70" stroke="#2b2b2b" stroke-width="4.4"/>
<line x1="1660.46" y1="897.9000000000001" x2="1660.46" y2="923.70" stroke="#2b2b2b" stroke-width="4.4"/>
<line x1="1961.95" y1="897.9000000000001" x2="1961.95" y2="923.70" stroke="#2b2b2b" stroke-width="4.4"/>
<rect x="172.45" y="528.35" width="1789.50" height="369.55" fill="none" stroke="#000" stroke-width="4.8"/>
<text transform="translate(1941.00,582.65)" font-size="50.3" text-anchor="end" style="fill:#FF0000">Bybæk</text>
</g>
<g>
<clipPath id="c2"><rect x="172.45" y="977.8" width="1789.50" height="369.55"/></clipPath>
<polyline points="172.4,1057.6 182.2,1056.3 191.9,1054.9 201.6,1053.6 211.4,1052.4 221.1,1051.1 230.8,1049.8 240.5,1048.5 250.3,1047.3 260.0,1046.0 269.7,1044.8 279.4,1043.6 289.2,1042.4 298.9,1041.2 308.6,1040.0 318.3,1038.9 328.1,1037.8 337.8,1036.7 347.5,1035.6 357.2,1034.6 367.0,1033.5 376.7,1032.5 386.4,1031.5 396.1,1030.6 405.9,1029.7 415.6,1028.8 425.3,1027.9 435.0,1027.1 444.8,1026.2 454.5,1025.5 464.2,1024.7 473.9,1024.0 483.7,1023.3 493.4,1022.6 503.1,1022.0 512.8,1021.4 522.6,1020.8 532.3,1020.3 542.0,1019.8 551.7,1019.4 561.5,1018.9 571.2,1018.5 580.9,1018.2 590.6,1017.8 600.4,1017.5 610.1,1017.3 619.8,1017.1 629.6,1016.9 639.3,1016.7 649.0,1016.6 658.7,1016.5 668.5,1016.5 678.2,1016.4 687.9,1016.5 697.6,1016.5 707.4,1016.6 717.1,1016.7 726.8,1016.9 736.5,1017.1 746.3,1017.3 756.0,1017.5 765.7,1017.8 775.4,1018.2 785.2,1018.5 794.9,1018.9 804.6,1019.3 814.3,1019.8 824.1,1020.3 833.8,1020.8 843.5,1021.3 853.2,1021.9 863.0,1022.5 872.7,1023.1 882.4,1023.8 892.1,1024.5 901.9,1025.2 911.6,1026.0 921.3,1026.8 931.0,1027.6 940.8,1028.4 950.5,1029.3 960.2,1030.2 969.9,1031.1 979.7,1032.1 989.4,1033.0 999.1,1034.0 1008.8,1035.1 1018.6,1036.1 1028.3,1037.2 1038.0,1038.3 1047.7,1039.4 1057.5,1040.5 1067.2,1041.7 1076.9,1042.9 1086.7,1044.1 1096.4,1045.3 1106.1,1046.6 1115.8,1047.8 1125.6,1049.1 1135.3,1050.4 1145.0,1051.7 1154.7,1053.1 1164.5,1054.4 1174.2,1055.8 1183.9,1057.2 1193.6,1058.6 1203.4,1060.0 1213.1,1061.5 1222.8,1062.9 1232.5,1064.4 1242.3,1065.9 1252.0,1067.4 1261.7,1068.9 1271.4,1070.4 1281.2,1071.9 1290.9,1073.5 1300.6,1075.0 1310.3,1076.6 1320.1,1078.2 1329.8,1079.8 1339.5,1081.4 1349.2,1083.0 1359.0,1084.6 1368.7,1086.2 1378.4,1087.9 1388.1,1089.5 1397.9,1091.2 1407.6,1092.9 1417.3,1094.5 1427.0,1096.2 1436.8,1097.9 1446.5,1099.6 1456.2,1101.3 1465.9,1103.0 1475.7,1104.8 1485.4,1106.5 1495.1,1108.2 1504.8,1110.0 1514.6,1111.8 1524.3,1113.5 1534.0,1115.3 1543.8,1117.1 1553.5,1118.9 1563.2,1120.7 1572.9,1122.5 1582.7,1124.3 1592.4,1126.2 1602.1,1128.0 1611.8,1129.9 1621.6,1131.7 1631.3,1133.6 1641.0,1135.5 1650.7,1137.3 1660.5,1139.2 1670.2,1141.1 1679.9,1143.0 1689.6,1145.0 1699.4,1146.9 1709.1,1148.9 1718.8,1150.8 1728.5,1152.8 1738.3,1154.8 1748.0,1156.8 1757.7,1158.8 1767.4,1160.8 1777.2,1162.9 1786.9,1164.9 1796.6,1167.0 1806.3,1169.1 1816.1,1171.2 1825.8,1173.3 1835.5,1175.5 1845.2,1177.7 1855.0,1179.9 1864.7,1182.1 1874.4,1184.3 1884.1,1186.6 1893.9,1188.9 1903.6,1191.2 1913.3,1193.5 1923.0,1195.9 1932.8,1198.3 1942.5,1200.8 1952.2,1203.2" fill="none" stroke="#5f5f5f" stroke-width="4.55" stroke-dasharray="19.3 19.755" stroke-dashoffset="-0.8"/>
<g clip-path="url(#c2)" fill="none" stroke-width="4.0" stroke-linejoin="round">
<polyline points="201.6,1326.6 211.4,1346.2 221.1,1346.2 230.8,1281.7 240.5,1217.1 250.3,1229.7 260.0,1238.7 269.7,1264.8 279.4,1135.4 289.2,1161.0 298.9,1176.0 308.6,1205.0 318.3,1291.0 328.1,1225.5 337.8,1149.8 347.5,1103.0 357.2,1110.5 367.0,1117.4 376.7,1184.4 386.4,1261.1 396.1,1218.1 405.9,1117.0 415.6,1098.3 425.3,1094.2 435.0,1091.2 444.8,1082.4 454.5,1046.9 464.2,1008.5 473.9,1096.8 483.7,1069.3 493.4,1027.2 503.1,1069.9 512.8,1068.4 522.6,1072.2 532.3,1122.7 542.0,1081.1 551.7,1126.4 561.5,1095.5 571.2,1206.8 580.9,1148.9 590.6,1063.7 600.4,1055.3 610.1,1234.9 619.8,1193.8 629.6,1116.1 639.3,1134.8 649.0,1214.3 658.7,1112.4 668.5,1178.8 678.2,1170.4 687.9,1193.8 697.6,1144.2 707.4,1193.8 717.1,1161.0 726.8,1108.1 736.5,1120.8 746.3,1214.3 756.0,1123.0 765.7,1240.5 775.4,1110.5 785.2,1134.3 794.9,1106.8 804.6,1253.6 814.3,1108.1 824.1,1114.8 833.8,1110.5 843.5,1023.5 853.2,1210.6 863.0,1206.8 872.7,1162.0 882.4,1159.1 892.1,1148.9 901.9,1153.0 911.6,1140.4 921.3,1165.7 931.0,1238.7 940.8,1276.1 950.5,1313.5 960.2,1144.2 969.9,1096.5 979.7,1253.6 989.4,1179.7 999.1,1174.7 1008.8,1154.5 1018.6,1178.8 1028.3,1095.5 1038.0,1178.8 1047.7,1221.8 1057.5,1145.1 1067.2,1267.1 1076.9,1266.3 1086.7,1287.3 1096.4,1246.1 1106.1,1211.0 1115.8,1242.4 1125.6,1289.2 1135.3,1201.6 1145.0,1253.2 1154.7,1194.7 1164.5,1229.3 1174.2,1279.8 1183.9,1206.8 1193.6,1154.5 1203.4,1163.4 1213.1,1168.5 1222.8,1236.8 1232.5,1253.2 1242.3,1253.2 1252.0,1167.6 1261.7,1139.5 1271.4,1195.6 1281.2,1235.8 1290.9,1170.9 1300.6,1180.3 1310.3,1262.0 1320.1,1246.5 1329.8,1240.1 1339.5,1283.5 1349.2,1282.6 1359.0,1248.0 1368.7,1225.2 1378.4,1219.0 1388.1,1252.1 1397.9,1223.7 1407.6,1196.5 1417.3,1175.0 1427.0,1210.2 1436.8,1179.7 1446.5,1190.9 1456.2,1268.6 1465.9,1237.2 1475.7,1311.6 1485.4,1285.8 1495.1,1282.6 1504.8,1254.5 1514.6,1249.5 1524.3,1253.2 1534.0,1322.8 1543.8,1292.9 1553.5,1305.1 1563.2,1305.6 1572.9,1317.2 1582.7,1286.9 1592.4,1295.1 1602.1,1300.8 1611.8,1302.6 1621.6,1278.9 1631.3,1298.5 1641.0,1319.1 1650.7,1290.1 1660.5,1322.8 1670.2,1315.0 1679.9,1325.6 1689.6,1306.0 1699.4,1295.7 1709.1,1318.7 1718.8,1320.6 1728.5,1300.0 1738.3,1321.0 1748.0,1321.0 1757.7,1314.4 1767.4,1307.5 1777.2,1335.0 1786.9,1303.2 1796.6,1312.0 1806.3,1308.8 1816.1,1313.5 1825.8,1318.2 1835.5,1323.2 1845.2,1328.1 1855.0,1333.1 1864.7,1337.8 1874.4,1333.1 1884.1,1344.3 1893.9,1340.6 1903.6,1344.3 1913.3,1343.0 1923.0,1345.3 1932.8,1344.3 1942.5,1334.0 1952.2,1340.6 1962.0,1341.5" stroke="#DC4B03"/>
<polyline points="201.6,1329.4 211.4,1346.2 221.1,1346.2 230.8,1287.3 240.5,1239.6 250.3,1246.5 260.0,1254.5 269.7,1279.8 279.4,1182.5 289.2,1204.0 298.9,1208.3 308.6,1238.7 318.3,1296.6 328.1,1238.7 337.8,1195.6 347.5,1154.1 357.2,1152.2 367.0,1153.5 376.7,1216.2 386.4,1279.8 396.1,1233.0 405.9,1176.0 415.6,1157.3 425.3,1160.1 435.0,1151.7 444.8,1142.9 454.5,1129.8 464.2,1091.8 473.9,1143.2 483.7,1118.9 493.4,1087.1 503.1,1123.6 512.8,1126.4 522.6,1124.9 532.3,1164.8 542.0,1129.8 551.7,1155.4 561.5,1133.5 571.2,1220.9 580.9,1152.6 590.6,1078.7 600.4,1077.8 610.1,1248.0 619.8,1207.8 629.6,1159.1 639.3,1177.9 649.0,1234.0 658.7,1161.0 668.5,1212.5 678.2,1210.6 687.9,1232.1 697.6,1192.2 707.4,1198.4 717.1,1192.8 726.8,1154.5 736.5,1147.9 746.3,1227.4 756.0,1160.1 765.7,1249.9 775.4,1149.2 785.2,1161.0 794.9,1139.5 804.6,1264.8 814.3,1138.6 824.1,1149.8 833.8,1143.6 843.5,1067.5 853.2,1231.2 863.0,1227.0 872.7,1193.8 882.4,1201.2 892.1,1191.5 901.9,1194.7 911.6,1185.9 921.3,1211.5 931.0,1259.2 940.8,1291.0 950.5,1317.2 960.2,1183.5 969.9,1146.0 979.7,1272.3 989.4,1216.2 999.1,1216.2 1008.8,1197.5 1018.6,1214.3 1028.3,1143.2 1038.0,1205.0 1047.7,1248.0 1057.5,1186.3 1067.2,1283.9 1076.9,1285.0 1086.7,1301.3 1096.4,1272.3 1106.1,1248.0 1115.8,1265.8 1125.6,1304.1 1135.3,1240.1 1145.0,1275.1 1154.7,1232.1 1164.5,1255.5 1174.2,1291.0 1183.9,1234.9 1193.6,1186.3 1203.4,1193.8 1213.1,1205.0 1222.8,1259.2 1232.5,1267.6 1242.3,1263.9 1252.0,1202.2 1261.7,1178.8 1271.4,1223.7 1281.2,1255.5 1290.9,1205.9 1300.6,1211.0 1310.3,1276.1 1320.1,1267.6 1329.8,1274.2 1339.5,1301.3 1349.2,1299.5 1359.0,1270.5 1368.7,1259.2 1378.4,1250.2 1388.1,1275.1 1397.9,1256.4 1407.6,1236.8 1417.3,1216.2 1427.0,1231.2 1436.8,1206.5 1446.5,1214.3 1456.2,1281.7 1465.9,1254.5 1475.7,1318.2 1485.4,1301.3 1495.1,1285.8 1504.8,1269.5 1514.6,1266.7 1524.3,1268.2 1534.0,1324.7 1543.8,1299.5 1553.5,1310.7 1563.2,1312.5 1572.9,1319.5 1582.7,1295.1 1592.4,1304.1 1602.1,1307.9 1611.8,1310.7 1621.6,1297.0 1631.3,1307.9 1641.0,1322.8 1650.7,1305.6 1660.5,1327.5 1670.2,1322.8 1679.9,1330.3 1689.6,1317.2 1699.4,1308.8 1709.1,1325.6 1718.8,1327.0 1728.5,1310.7 1738.3,1326.6 1748.0,1326.2 1757.7,1321.0 1767.4,1314.4 1777.2,1337.8 1786.9,1312.0 1796.6,1318.2 1806.3,1315.7 1816.1,1319.1 1825.8,1323.8 1835.5,1346.2 1845.2,1346.2 1855.0,1346.2 1864.7,1340.6 1874.4,1336.9 1884.1,1345.3 1893.9,1343.0 1903.6,1345.3 1913.3,1344.3 1923.0,1345.8 1932.8,1345.3 1942.5,1337.8 1952.2,1342.5 1962.0,1343.0" stroke="#F0960A"/>
<polyline points="201.6,1343.4 211.4,1346.2 221.1,1346.2 230.8,1289.2 240.5,1218.1 250.3,1218.4 260.0,1234.0 269.7,1284.5 279.4,1182.2 289.2,1200.9 298.9,1178.8 308.6,1225.5 318.3,1299.5 328.1,1234.9 337.8,1202.2 347.5,1167.6 357.2,1138.6 367.0,1153.5 376.7,1219.9 386.4,1291.0 396.1,1231.2 405.9,1205.0 415.6,1190.0 425.3,1162.0 435.0,1161.0 444.8,1161.0 454.5,1176.9 464.2,1143.2 473.9,1186.3 483.7,1157.3 493.4,1127.9 503.1,1164.8 512.8,1174.1 522.6,1168.5 532.3,1201.6 542.0,1177.3 551.7,1196.5 561.5,1185.3 571.2,1259.2 580.9,1193.8 590.6,1127.3 600.4,1127.3 610.1,1270.5 619.8,1234.9 629.6,1201.2 639.3,1218.1 649.0,1261.1 658.7,1203.1 668.5,1242.4 678.2,1250.2 687.9,1263.0 697.6,1233.0 707.4,1235.8 717.1,1222.7 726.8,1192.2 736.5,1188.1 746.3,1249.9 756.0,1192.8 765.7,1266.7 775.4,1188.1 785.2,1191.9 794.9,1170.4 804.6,1279.8 814.3,1175.0 824.1,1182.5 833.8,1167.9 843.5,1102.1 853.2,1242.4 863.0,1246.1 872.7,1213.4 882.4,1225.5 892.1,1218.1 901.9,1213.4 911.6,1210.2 921.3,1238.7 931.0,1274.2 940.8,1299.5 950.5,1321.9 960.2,1216.2 969.9,1186.3 979.7,1287.3 989.4,1246.5 999.1,1248.4 1008.8,1234.5 1018.6,1244.3 1028.3,1183.5 1038.0,1229.3 1047.7,1266.7 1057.5,1223.7 1067.2,1296.3 1076.9,1296.6 1086.7,1313.5 1096.4,1294.8 1106.1,1278.9 1115.8,1287.3 1125.6,1315.4 1135.3,1279.4 1145.0,1294.8 1154.7,1260.7 1164.5,1279.8 1174.2,1302.2 1183.9,1251.7 1193.6,1211.5 1203.4,1219.9 1213.1,1238.7 1222.8,1279.4 1232.5,1283.5 1242.3,1282.6 1252.0,1238.7 1261.7,1214.3 1271.4,1251.7 1281.2,1277.9 1290.9,1238.7 1300.6,1242.4 1310.3,1294.8 1320.1,1284.5 1329.8,1299.5 1339.5,1315.0 1349.2,1311.6 1359.0,1290.1 1368.7,1287.3 1378.4,1282.6 1388.1,1297.0 1397.9,1285.4 1407.6,1276.1 1417.3,1252.7 1427.0,1257.7 1436.8,1234.9 1446.5,1249.9 1456.2,1289.2 1465.9,1277.9 1475.7,1322.8 1485.4,1315.0 1495.1,1309.7 1504.8,1296.3 1514.6,1292.9 1524.3,1292.0 1534.0,1333.1 1543.8,1317.2 1553.5,1324.3 1563.2,1327.5 1572.9,1332.2 1582.7,1317.2 1592.4,1322.5 1602.1,1323.2 1611.8,1322.8 1621.6,1311.2 1631.3,1317.2 1641.0,1328.4 1650.7,1319.1 1660.5,1332.2 1670.2,1329.4 1679.9,1334.0 1689.6,1327.5 1699.4,1321.3 1709.1,1331.2 1718.8,1331.8 1728.5,1321.9 1738.3,1330.7 1748.0,1329.9 1757.7,1327.5 1767.4,1323.8 1777.2,1340.6 1786.9,1322.8 1796.6,1327.5 1806.3,1327.5 1816.1,1327.5 1825.8,1334.0 1835.5,1336.9 1845.2,1339.7 1855.0,1342.5 1864.7,1342.5 1874.4,1338.7 1884.1,1345.7 1893.9,1344.3 1903.6,1345.7 1913.3,1345.3 1923.0,1346.0 1932.8,1345.7 1942.5,1340.6 1952.2,1343.8 1962.0,1344.2" stroke="#FFE200"/>
<polyline points="201.6,1342.5 211.4,1346.2 221.1,1346.2 230.8,1294.8 240.5,1246.1 250.3,1243.3 260.0,1255.5 269.7,1294.8 279.4,1222.7 289.2,1238.7 298.9,1219.6 308.6,1253.6 318.3,1304.1 328.1,1272.3 337.8,1248.0 347.5,1212.5 357.2,1181.0 367.0,1189.1 376.7,1244.3 386.4,1302.2 396.1,1262.0 405.9,1244.3 415.6,1228.4 425.3,1218.1 435.0,1210.2 444.8,1207.2 454.5,1225.5 464.2,1194.7 473.9,1216.2 483.7,1188.1 493.4,1157.3 503.1,1191.9 512.8,1201.6 522.6,1197.5 532.3,1229.3 542.0,1208.3 551.7,1225.5 561.5,1202.2 571.2,1268.6 580.9,1216.2 590.6,1160.5 600.4,1162.0 610.1,1287.3 619.8,1257.4 629.6,1229.3 639.3,1239.6 649.0,1270.5 658.7,1225.2 668.5,1260.2 678.2,1271.4 687.9,1282.6 697.6,1253.6 707.4,1252.7 717.1,1244.3 726.8,1222.7 736.5,1215.3 746.3,1264.8 756.0,1215.3 765.7,1281.7 775.4,1216.2 785.2,1217.1 794.9,1195.2 804.6,1294.8 814.3,1195.6 824.1,1207.8 833.8,1194.7 843.5,1135.8 853.2,1258.3 863.0,1260.2 872.7,1235.8 882.4,1244.3 892.1,1235.8 901.9,1236.8 911.6,1234.0 921.3,1264.8 931.0,1289.2 940.8,1307.9 950.5,1326.6 960.2,1234.9 969.9,1208.3 979.7,1298.5 989.4,1263.0 999.1,1265.8 1008.8,1252.7 1018.6,1261.1 1028.3,1205.4 1038.0,1244.3 1047.7,1279.8 1057.5,1242.4 1067.2,1305.1 1076.9,1304.5 1086.7,1320.0 1096.4,1307.9 1106.1,1292.0 1115.8,1295.7 1125.6,1321.0 1135.3,1292.9 1145.0,1304.1 1154.7,1278.9 1164.5,1287.3 1174.2,1307.9 1183.9,1263.0 1193.6,1224.6 1203.4,1234.9 1213.1,1248.0 1222.8,1289.2 1232.5,1289.2 1242.3,1285.4 1252.0,1252.7 1261.7,1231.2 1271.4,1264.8 1281.2,1283.5 1290.9,1249.9 1300.6,1250.8 1310.3,1299.5 1320.1,1292.0 1329.8,1306.9 1339.5,1319.5 1349.2,1318.2 1359.0,1296.6 1368.7,1293.8 1378.4,1289.2 1388.1,1304.1 1397.9,1293.8 1407.6,1283.5 1417.3,1270.5 1427.0,1270.8 1436.8,1250.8 1446.5,1262.0 1456.2,1304.1 1465.9,1290.1 1475.7,1327.5 1485.4,1321.0 1495.1,1316.3 1504.8,1303.2 1514.6,1301.9 1524.3,1300.0 1534.0,1330.3 1543.8,1319.1 1553.5,1326.2 1563.2,1329.4 1572.9,1333.1 1582.7,1320.0 1592.4,1324.7 1602.1,1325.6 1611.8,1325.6 1621.6,1320.6 1631.3,1322.8 1641.0,1333.7 1650.7,1326.6 1660.5,1336.9 1670.2,1334.4 1679.9,1337.4 1689.6,1333.1 1699.4,1328.4 1709.1,1335.5 1718.8,1335.9 1728.5,1327.5 1738.3,1335.0 1748.0,1334.0 1757.7,1332.2 1767.4,1329.4 1777.2,1342.5 1786.9,1327.5 1796.6,1331.2 1806.3,1331.2 1816.1,1331.2 1825.8,1335.5 1835.5,1337.8 1845.2,1340.0 1855.0,1342.5 1864.7,1343.0 1874.4,1340.6 1884.1,1345.8 1893.9,1344.9 1903.6,1345.8 1913.3,1345.7 1923.0,1346.2 1932.8,1345.8 1942.5,1342.5 1952.2,1344.5 1962.0,1344.9" stroke="#AAE150"/>
<polyline points="201.6,1344.3 211.4,1346.2 221.1,1346.2 230.8,1302.2 240.5,1259.2 250.3,1252.7 260.0,1265.8 269.7,1316.8 279.4,1247.1 289.2,1260.2 298.9,1237.7 308.6,1281.7 318.3,1319.1 328.1,1283.5 337.8,1269.5 347.5,1236.8 357.2,1205.0 367.0,1210.6 376.7,1266.7 386.4,1318.7 396.1,1277.0 405.9,1268.6 415.6,1255.5 425.3,1248.9 435.0,1239.6 444.8,1237.2 454.5,1258.3 464.2,1231.2 473.9,1241.5 483.7,1212.5 493.4,1183.5 503.1,1217.1 512.8,1226.5 522.6,1222.7 532.3,1252.7 542.0,1234.9 551.7,1249.9 561.5,1222.7 571.2,1279.8 580.9,1236.8 590.6,1190.0 600.4,1192.2 610.1,1299.5 619.8,1276.1 629.6,1252.7 639.3,1260.2 649.0,1283.5 658.7,1246.1 668.5,1277.6 678.2,1288.2 687.9,1298.5 697.6,1273.8 707.4,1270.5 717.1,1262.6 726.8,1246.5 736.5,1238.3 746.3,1277.0 756.0,1235.8 765.7,1300.8 775.4,1239.6 785.2,1239.0 794.9,1216.2 804.6,1314.4 814.3,1215.8 824.1,1228.9 833.8,1216.2 843.5,1164.8 853.2,1270.5 863.0,1272.7 872.7,1252.7 882.4,1260.2 892.1,1251.7 901.9,1254.5 911.6,1252.7 921.3,1281.7 931.0,1300.4 940.8,1317.2 950.5,1335.9 960.2,1251.7 969.9,1229.3 979.7,1315.4 989.4,1278.3 999.1,1281.3 1008.8,1269.0 1018.6,1276.4 1028.3,1226.5 1038.0,1259.2 1047.7,1292.9 1057.5,1260.2 1067.2,1312.5 1076.9,1311.2 1086.7,1325.1 1096.4,1318.2 1106.1,1305.1 1115.8,1306.9 1125.6,1328.4 1135.3,1306.0 1145.0,1313.1 1154.7,1293.8 1164.5,1298.5 1174.2,1316.3 1183.9,1276.1 1193.6,1238.3 1203.4,1248.0 1213.1,1259.2 1222.8,1299.5 1232.5,1296.6 1242.3,1290.1 1252.0,1264.8 1261.7,1248.0 1271.4,1275.1 1281.2,1291.0 1290.9,1263.0 1300.6,1263.0 1310.3,1302.2 1320.1,1299.5 1329.8,1312.5 1339.5,1324.3 1349.2,1323.8 1359.0,1304.1 1368.7,1303.8 1378.4,1298.5 1388.1,1311.6 1397.9,1304.1 1407.6,1295.7 1417.3,1287.3 1427.0,1284.5 1436.8,1265.8 1446.5,1276.1 1456.2,1312.5 1465.9,1300.4 1475.7,1332.6 1485.4,1327.0 1495.1,1323.8 1504.8,1311.6 1514.6,1310.7 1524.3,1308.8 1534.0,1331.8 1543.8,1322.8 1553.5,1329.4 1563.2,1332.2 1572.9,1334.4 1582.7,1322.5 1592.4,1328.4 1602.1,1328.8 1611.8,1329.4 1621.6,1327.5 1631.3,1327.5 1641.0,1336.9 1650.7,1331.2 1660.5,1340.6 1670.2,1337.8 1679.9,1340.6 1689.6,1336.9 1699.4,1333.1 1709.1,1338.7 1718.8,1338.7 1728.5,1331.8 1738.3,1338.2 1748.0,1337.8 1757.7,1335.9 1767.4,1333.7 1777.2,1345.3 1786.9,1331.8 1796.6,1335.0 1806.3,1335.0 1816.1,1335.0 1825.8,1340.6 1835.5,1346.2 1845.2,1346.2 1855.0,1346.2 1864.7,1344.3 1874.4,1342.5 1884.1,1346.0 1893.9,1345.3 1903.6,1346.0 1913.3,1345.8 1923.0,1346.2 1932.8,1346.0 1942.5,1343.8 1952.2,1345.1 1962.0,1345.3" stroke="#5AE1AA"/>
</g>
<line x1="153.05" y1="1347.35" x2="172.45" y2="1347.35" stroke="#2b2b2b" stroke-width="4.4"/>
<line x1="1961.95" y1="1347.35" x2="1981.45" y2="1347.35" stroke="#2b2b2b" stroke-width="4.4"/>
<text transform="translate(142.70,1364.20) scale(1,1.05)" font-size="45.7" text-anchor="end">0</text>
<text transform="translate(1991.35,1364.20) scale(1,1.05)" font-size="45.7">0</text>
<line x1="153.05" y1="1254.96" x2="172.45" y2="1254.96" stroke="#2b2b2b" stroke-width="4.4"/>
<line x1="1961.95" y1="1254.96" x2="1981.45" y2="1254.96" stroke="#2b2b2b" stroke-width="4.4"/>
<text transform="translate(142.70,1271.81) scale(1,1.05)" font-size="45.7" text-anchor="end">5</text>
<text transform="translate(1991.35,1271.81) scale(1,1.05)" font-size="45.7">4</text>
<line x1="153.05" y1="1162.57" x2="172.45" y2="1162.57" stroke="#2b2b2b" stroke-width="4.4"/>
<line x1="1961.95" y1="1162.57" x2="1981.45" y2="1162.57" stroke="#2b2b2b" stroke-width="4.4"/>
<text transform="translate(142.70,1179.42) scale(1,1.05)" font-size="45.7" text-anchor="end">10</text>
<text transform="translate(1991.35,1179.42) scale(1,1.05)" font-size="45.7">8</text>
<line x1="153.05" y1="1070.19" x2="172.45" y2="1070.19" stroke="#2b2b2b" stroke-width="4.4"/>
<line x1="1961.95" y1="1070.19" x2="1981.45" y2="1070.19" stroke="#2b2b2b" stroke-width="4.4"/>
<text transform="translate(142.70,1087.04) scale(1,1.05)" font-size="45.7" text-anchor="end">15</text>
<text transform="translate(1991.35,1087.04) scale(1,1.05)" font-size="45.7">12</text>
<line x1="153.05" y1="977.80" x2="172.45" y2="977.80" stroke="#2b2b2b" stroke-width="4.4"/>
<line x1="1961.95" y1="977.80" x2="1981.45" y2="977.80" stroke="#2b2b2b" stroke-width="4.4"/>
<text transform="translate(142.70,994.65) scale(1,1.05)" font-size="45.7" text-anchor="end">20</text>
<text transform="translate(1991.35,994.65) scale(1,1.05)" font-size="45.7">16</text>
<line x1="172.45" y1="1347.35" x2="172.45" y2="1373.15" stroke="#2b2b2b" stroke-width="4.4"/>
<line x1="473.94" y1="1347.35" x2="473.94" y2="1373.15" stroke="#2b2b2b" stroke-width="4.4"/>
<line x1="765.71" y1="1347.35" x2="765.71" y2="1373.15" stroke="#2b2b2b" stroke-width="4.4"/>
<line x1="1067.20" y1="1347.35" x2="1067.20" y2="1373.15" stroke="#2b2b2b" stroke-width="4.4"/>
<line x1="1368.69" y1="1347.35" x2="1368.69" y2="1373.15" stroke="#2b2b2b" stroke-width="4.4"/>
<line x1="1660.46" y1="1347.35" x2="1660.46" y2="1373.15" stroke="#2b2b2b" stroke-width="4.4"/>
<line x1="1961.95" y1="1347.35" x2="1961.95" y2="1373.15" stroke="#2b2b2b" stroke-width="4.4"/>
<rect x="172.45" y="977.8" width="1789.50" height="369.55" fill="none" stroke="#000" stroke-width="4.8"/>
<text transform="translate(1941.00,1032.10)" font-size="50.3" text-anchor="end" style="fill:#666666">Sellerup</text>
</g>
<g>
<clipPath id="c3"><rect x="172.45" y="1427.25" width="1789.50" height="369.55"/></clipPath>
<polyline points="172.4,1507.0 182.2,1505.7 191.9,1504.4 201.6,1503.1 211.4,1501.8 221.1,1500.5 230.8,1499.2 240.5,1498.0 250.3,1496.7 260.0,1495.5 269.7,1494.2 279.4,1493.0 289.2,1491.8 298.9,1490.7 308.6,1489.5 318.3,1488.4 328.1,1487.2 337.8,1486.1 347.5,1485.1 357.2,1484.0 367.0,1483.0 376.7,1482.0 386.4,1481.0 396.1,1480.0 405.9,1479.1 415.6,1478.2 425.3,1477.3 435.0,1476.5 444.8,1475.7 454.5,1474.9 464.2,1474.2 473.9,1473.4 483.7,1472.7 493.4,1472.1 503.1,1471.5 512.8,1470.9 522.6,1470.3 532.3,1469.8 542.0,1469.3 551.7,1468.8 561.5,1468.4 571.2,1468.0 580.9,1467.6 590.6,1467.3 600.4,1467.0 610.1,1466.7 619.8,1466.5 629.6,1466.3 639.3,1466.2 649.0,1466.0 658.7,1466.0 668.5,1465.9 678.2,1465.9 687.9,1465.9 697.6,1466.0 707.4,1466.1 717.1,1466.2 726.8,1466.3 736.5,1466.5 746.3,1466.7 756.0,1467.0 765.7,1467.3 775.4,1467.6 785.2,1468.0 794.9,1468.3 804.6,1468.8 814.3,1469.2 824.1,1469.7 833.8,1470.2 843.5,1470.8 853.2,1471.3 863.0,1472.0 872.7,1472.6 882.4,1473.3 892.1,1474.0 901.9,1474.7 911.6,1475.5 921.3,1476.2 931.0,1477.0 940.8,1477.9 950.5,1478.8 960.2,1479.7 969.9,1480.6 979.7,1481.5 989.4,1482.5 999.1,1483.5 1008.8,1484.5 1018.6,1485.6 1028.3,1486.6 1038.0,1487.7 1047.7,1488.9 1057.5,1490.0 1067.2,1491.2 1076.9,1492.3 1086.7,1493.5 1096.4,1494.8 1106.1,1496.0 1115.8,1497.3 1125.6,1498.6 1135.3,1499.9 1145.0,1501.2 1154.7,1502.5 1164.5,1503.9 1174.2,1505.3 1183.9,1506.7 1193.6,1508.1 1203.4,1509.5 1213.1,1510.9 1222.8,1512.4 1232.5,1513.8 1242.3,1515.3 1252.0,1516.8 1261.7,1518.3 1271.4,1519.8 1281.2,1521.4 1290.9,1522.9 1300.6,1524.5 1310.3,1526.1 1320.1,1527.6 1329.8,1529.2 1339.5,1530.8 1349.2,1532.4 1359.0,1534.1 1368.7,1535.7 1378.4,1537.3 1388.1,1539.0 1397.9,1540.6 1407.6,1542.3 1417.3,1544.0 1427.0,1545.7 1436.8,1547.4 1446.5,1549.1 1456.2,1550.8 1465.9,1552.5 1475.7,1554.2 1485.4,1555.9 1495.1,1557.7 1504.8,1559.4 1514.6,1561.2 1524.3,1563.0 1534.0,1564.8 1543.8,1566.6 1553.5,1568.4 1563.2,1570.2 1572.9,1572.0 1582.7,1573.8 1592.4,1575.6 1602.1,1577.5 1611.8,1579.3 1621.6,1581.2 1631.3,1583.0 1641.0,1584.9 1650.7,1586.8 1660.5,1588.7 1670.2,1590.6 1679.9,1592.5 1689.6,1594.4 1699.4,1596.4 1709.1,1598.3 1718.8,1600.3 1728.5,1602.2 1738.3,1604.2 1748.0,1606.2 1757.7,1608.2 1767.4,1610.3 1777.2,1612.3 1786.9,1614.4 1796.6,1616.4 1806.3,1618.5 1816.1,1620.6 1825.8,1622.8 1835.5,1624.9 1845.2,1627.1 1855.0,1629.3 1864.7,1631.5 1874.4,1633.8 1884.1,1636.0 1893.9,1638.3 1903.6,1640.6 1913.3,1643.0 1923.0,1645.4 1932.8,1647.8 1942.5,1650.2 1952.2,1652.7" fill="none" stroke="#5f5f5f" stroke-width="4.55" stroke-dasharray="19.3 19.755" stroke-dashoffset="-0.8"/>
<g clip-path="url(#c3)" fill="none" stroke-width="4.0" stroke-linejoin="round">
<polyline points="191.9,1685.0 201.6,1709.3 211.4,1793.5 221.1,1786.0 230.8,1751.4 240.5,1688.8 250.3,1676.6 260.0,1709.3 269.7,1727.1 279.4,1646.7 289.2,1625.7 298.9,1639.2 308.6,1642.0 318.3,1734.6 328.1,1691.6 337.8,1662.6 347.5,1668.2 357.2,1654.2 367.0,1686.0 376.7,1671.0 386.4,1744.0 396.1,1671.9 405.9,1648.5 415.6,1668.2 425.3,1647.0 435.0,1672.9 444.8,1651.9 454.5,1663.5 464.2,1642.9 473.9,1644.8 483.7,1629.8 493.4,1613.0 503.1,1642.5 512.8,1610.8 522.6,1603.3 532.3,1657.0 542.0,1606.5 551.7,1635.4 561.5,1665.4 571.2,1650.0 580.9,1651.3 590.6,1631.7 600.4,1637.3 610.1,1697.2 619.8,1661.6 629.6,1626.5 639.3,1637.3 649.0,1711.2 658.7,1656.0 668.5,1694.9 678.2,1680.3 687.9,1674.7 697.6,1670.0 707.4,1633.6 717.1,1696.2 726.8,1641.0 736.5,1645.7 746.3,1708.4 756.0,1663.1 765.7,1717.8 775.4,1663.1 785.2,1663.9 794.9,1653.8 804.6,1742.1 814.3,1637.3 824.1,1586.8 833.8,1567.2 843.5,1582.1 853.2,1708.4 863.0,1686.0 872.7,1650.4 882.4,1680.3 892.1,1675.7 901.9,1683.2 911.6,1664.4 921.3,1668.7 931.0,1708.4 940.8,1742.1 950.5,1779.5 960.2,1674.7 969.9,1642.5 979.7,1735.5 989.4,1680.7 999.1,1671.9 1008.8,1692.5 1018.6,1725.6 1028.3,1651.9 1038.0,1671.0 1047.7,1699.4 1057.5,1661.3 1067.2,1737.4 1076.9,1701.8 1086.7,1749.6 1096.4,1743.0 1106.1,1711.8 1115.8,1727.1 1125.6,1760.8 1135.3,1739.3 1145.0,1748.6 1154.7,1722.4 1164.5,1723.4 1174.2,1749.6 1183.9,1697.2 1193.6,1655.1 1203.4,1671.9 1213.1,1663.1 1222.8,1704.7 1232.5,1735.5 1242.3,1728.0 1252.0,1684.1 1261.7,1661.6 1271.4,1669.1 1281.2,1719.6 1290.9,1710.3 1300.6,1690.1 1310.3,1723.4 1320.1,1713.1 1329.8,1698.1 1339.5,1726.2 1349.2,1745.4 1359.0,1737.4 1368.7,1702.8 1378.4,1723.4 1388.1,1740.2 1397.9,1713.6 1407.6,1711.1 1417.3,1716.7 1427.0,1715.8 1436.8,1700.3 1446.5,1696.5 1456.2,1714.5 1465.9,1723.8 1475.7,1764.4 1485.4,1746.3 1495.1,1744.8 1504.8,1741.4 1514.6,1735.1 1524.3,1737.7 1534.0,1768.2 1543.8,1763.5 1553.5,1776.6 1563.2,1770.6 1572.9,1765.0 1582.7,1758.3 1592.4,1762.0 1602.1,1761.3 1611.8,1763.5 1621.6,1757.9 1631.3,1766.3 1641.0,1777.0 1650.7,1767.2 1660.5,1785.0 1670.2,1782.2 1679.9,1786.0 1689.6,1774.7 1699.4,1778.5 1709.1,1786.9 1718.8,1782.2 1728.5,1766.3 1738.3,1781.3 1748.0,1783.2 1757.7,1783.2 1767.4,1776.2 1777.2,1788.2 1786.9,1773.8 1796.6,1778.8 1806.3,1778.5 1816.1,1781.3 1825.8,1785.0 1835.5,1791.2 1845.2,1793.4 1855.0,1794.9 1864.7,1791.6 1874.4,1785.0 1884.1,1794.4 1893.9,1793.4 1903.6,1794.9 1913.3,1794.4 1923.0,1794.4 1932.8,1791.6 1942.5,1783.2 1952.2,1793.8 1962.0,1791.9" stroke="#AAE150"/>
<polyline points="191.9,1703.7 201.6,1725.2 211.4,1794.1 221.1,1788.8 230.8,1760.8 240.5,1719.6 250.3,1703.7 260.0,1729.0 269.7,1738.3 279.4,1672.9 289.2,1656.0 298.9,1663.5 308.6,1662.6 318.3,1745.8 328.1,1699.0 337.8,1682.6 347.5,1685.0 357.2,1648.5 367.0,1692.5 376.7,1694.4 386.4,1749.6 396.1,1690.6 405.9,1667.2 415.6,1686.0 425.3,1668.2 435.0,1680.7 444.8,1663.5 454.5,1666.3 464.2,1646.7 473.9,1668.7 483.7,1658.8 493.4,1648.5 503.1,1671.0 512.8,1645.2 522.6,1637.3 532.3,1688.2 542.0,1644.4 551.7,1671.4 561.5,1672.9 571.2,1670.6 580.9,1668.2 590.6,1663.9 600.4,1686.0 610.1,1723.4 619.8,1699.0 629.6,1684.1 639.3,1676.6 649.0,1724.3 658.7,1681.3 668.5,1719.6 678.2,1700.9 687.9,1696.2 697.6,1689.3 707.4,1671.4 717.1,1712.1 726.8,1665.0 736.5,1677.5 746.3,1721.5 756.0,1682.2 765.7,1730.8 775.4,1684.1 785.2,1685.0 794.9,1676.2 804.6,1751.4 814.3,1656.0 824.1,1617.7 833.8,1600.3 843.5,1608.3 853.2,1719.6 863.0,1699.0 872.7,1675.7 882.4,1699.0 892.1,1693.8 901.9,1700.0 911.6,1688.8 921.3,1693.1 931.0,1723.4 940.8,1751.4 950.5,1783.2 960.2,1690.6 969.9,1669.1 979.7,1744.0 989.4,1700.5 999.1,1694.9 1008.8,1712.1 1018.6,1739.3 1028.3,1677.5 1038.0,1691.2 1047.7,1714.0 1057.5,1684.1 1067.2,1745.8 1076.9,1720.6 1086.7,1757.0 1096.4,1753.3 1106.1,1731.8 1115.8,1742.1 1125.6,1766.4 1135.3,1744.0 1145.0,1760.8 1154.7,1736.8 1164.5,1737.4 1174.2,1758.9 1183.9,1715.9 1193.6,1676.6 1203.4,1690.1 1213.1,1682.2 1222.8,1717.8 1232.5,1744.0 1242.3,1735.5 1252.0,1701.8 1261.7,1679.4 1271.4,1686.0 1281.2,1730.5 1290.9,1721.9 1300.6,1704.7 1310.3,1735.0 1320.1,1724.9 1329.8,1712.1 1339.5,1736.5 1349.2,1752.4 1359.0,1746.8 1368.7,1721.9 1378.4,1740.2 1388.1,1754.2 1397.9,1735.5 1407.6,1733.6 1417.3,1735.8 1427.0,1731.7 1436.8,1723.8 1446.5,1716.4 1456.2,1731.3 1465.9,1739.2 1475.7,1771.9 1485.4,1757.9 1495.1,1756.0 1504.8,1754.2 1514.6,1748.5 1524.3,1752.3 1534.0,1773.2 1543.8,1771.4 1553.5,1783.2 1563.2,1778.5 1572.9,1773.8 1582.7,1768.7 1592.4,1771.9 1602.1,1771.0 1611.8,1772.5 1621.6,1767.2 1631.3,1774.7 1641.0,1782.2 1650.7,1775.7 1660.5,1788.2 1670.2,1786.3 1679.9,1788.8 1689.6,1781.8 1699.4,1784.1 1709.1,1789.3 1718.8,1786.9 1728.5,1775.7 1738.3,1786.0 1748.0,1786.9 1757.7,1786.9 1767.4,1782.2 1777.2,1790.1 1786.9,1780.3 1796.6,1784.1 1806.3,1783.7 1816.1,1786.0 1825.8,1788.2 1835.5,1792.5 1845.2,1794.0 1855.0,1795.1 1864.7,1793.1 1874.4,1788.2 1884.1,1794.7 1893.9,1794.2 1903.6,1795.1 1913.3,1794.7 1923.0,1794.7 1932.8,1793.1 1942.5,1786.9 1952.2,1794.4 1962.0,1793.4" stroke="#5AE1AA"/>
<polyline points="191.9,1718.7 201.6,1738.3 211.4,1794.5 221.1,1790.7 230.8,1768.3 240.5,1735.5 250.3,1721.5 260.0,1740.2 269.7,1747.7 279.4,1693.4 289.2,1678.5 298.9,1685.0 308.6,1683.7 318.3,1753.3 328.1,1717.8 337.8,1703.7 347.5,1705.6 357.2,1678.5 367.0,1709.3 376.7,1704.7 386.4,1757.0 396.1,1707.5 405.9,1687.8 415.6,1704.3 425.3,1688.8 435.0,1701.8 444.8,1686.0 454.5,1688.8 464.2,1669.1 473.9,1689.3 483.7,1681.3 493.4,1668.2 503.1,1696.2 512.8,1671.0 522.6,1666.9 532.3,1703.7 542.0,1669.1 551.7,1691.6 561.5,1697.5 571.2,1690.6 580.9,1693.1 590.6,1685.6 600.4,1697.2 610.1,1732.7 619.8,1708.4 629.6,1686.9 639.3,1690.1 649.0,1734.6 658.7,1700.0 668.5,1730.8 678.2,1731.8 687.9,1712.5 697.6,1713.1 707.4,1692.5 717.1,1725.6 726.8,1688.2 736.5,1698.1 746.3,1734.6 756.0,1700.9 765.7,1744.0 775.4,1703.7 785.2,1705.0 794.9,1697.5 804.6,1757.0 814.3,1678.5 824.1,1645.7 833.8,1630.8 843.5,1635.4 853.2,1755.2 863.0,1719.6 872.7,1688.8 882.4,1713.1 892.1,1709.3 901.9,1713.6 911.6,1704.7 921.3,1708.4 931.0,1734.6 940.8,1758.9 950.5,1786.0 960.2,1709.3 969.9,1695.7 979.7,1753.3 989.4,1721.1 999.1,1716.8 1008.8,1732.7 1018.6,1749.6 1028.3,1704.7 1038.0,1714.0 1047.7,1732.7 1057.5,1709.3 1067.2,1753.3 1076.9,1737.4 1086.7,1766.4 1096.4,1765.5 1106.1,1747.3 1115.8,1756.1 1125.6,1772.0 1135.3,1758.0 1145.0,1767.3 1154.7,1752.4 1164.5,1751.8 1174.2,1765.5 1183.9,1732.7 1193.6,1701.3 1203.4,1710.3 1213.1,1704.7 1222.8,1732.7 1232.5,1755.2 1242.3,1749.6 1252.0,1723.4 1261.7,1705.6 1271.4,1711.8 1281.2,1744.0 1290.9,1739.3 1300.6,1725.2 1310.3,1747.7 1320.1,1741.1 1329.8,1731.8 1339.5,1748.6 1349.2,1761.7 1359.0,1759.8 1368.7,1738.3 1378.4,1755.2 1388.1,1764.2 1397.9,1752.4 1407.6,1751.3 1417.3,1753.2 1427.0,1748.2 1436.8,1743.9 1446.5,1736.9 1456.2,1751.3 1465.9,1754.2 1475.7,1778.5 1485.4,1768.2 1495.1,1766.9 1504.8,1765.4 1514.6,1762.0 1524.3,1764.4 1534.0,1780.7 1543.8,1778.8 1553.5,1787.8 1563.2,1784.1 1572.9,1780.3 1582.7,1776.6 1592.4,1778.5 1602.1,1778.1 1611.8,1778.5 1621.6,1774.7 1631.3,1780.7 1641.0,1786.0 1650.7,1782.2 1660.5,1790.6 1670.2,1789.3 1679.9,1790.6 1689.6,1786.3 1699.4,1787.8 1709.1,1791.2 1718.8,1789.7 1728.5,1782.2 1738.3,1788.8 1748.0,1789.3 1757.7,1789.3 1767.4,1786.0 1777.2,1791.6 1786.9,1785.0 1796.6,1787.5 1806.3,1787.1 1816.1,1788.8 1825.8,1790.1 1835.5,1793.1 1845.2,1794.4 1855.0,1795.3 1864.7,1793.8 1874.4,1790.1 1884.1,1794.9 1893.9,1794.6 1903.6,1795.3 1913.3,1794.9 1923.0,1794.9 1932.8,1793.8 1942.5,1789.3 1952.2,1794.7 1962.0,1794.0" stroke="#00E1FF"/>
<polyline points="191.9,1729.9 201.6,1747.7 211.4,1794.8 221.1,1791.7 230.8,1773.9 240.5,1748.6 250.3,1737.4 260.0,1751.4 269.7,1757.0 279.4,1712.1 289.2,1700.0 298.9,1704.7 308.6,1702.8 318.3,1758.9 328.1,1732.7 337.8,1721.5 347.5,1721.1 357.2,1692.5 367.0,1721.5 376.7,1719.6 386.4,1762.7 396.1,1721.5 405.9,1704.7 415.6,1719.6 425.3,1706.5 435.0,1716.3 444.8,1703.7 454.5,1702.8 464.2,1684.1 473.9,1708.8 483.7,1702.8 493.4,1692.5 503.1,1732.7 512.8,1704.7 522.6,1701.3 532.3,1725.2 542.0,1699.4 551.7,1716.3 561.5,1715.9 571.2,1709.3 580.9,1715.0 590.6,1708.8 600.4,1719.6 610.1,1742.1 619.8,1719.6 629.6,1700.5 639.3,1710.3 649.0,1744.0 658.7,1715.9 668.5,1745.8 678.2,1768.3 687.9,1729.0 697.6,1731.8 707.4,1716.3 717.1,1737.4 726.8,1711.2 736.5,1719.6 746.3,1745.8 756.0,1719.6 765.7,1753.3 775.4,1724.3 785.2,1730.8 794.9,1725.2 804.6,1760.8 814.3,1689.7 824.1,1678.5 833.8,1671.9 843.5,1671.9 853.2,1749.6 863.0,1744.0 872.7,1706.5 882.4,1727.1 892.1,1727.5 901.9,1727.5 911.6,1723.0 921.3,1725.6 931.0,1745.8 940.8,1766.4 950.5,1787.9 960.2,1719.6 969.9,1702.8 979.7,1759.8 989.4,1725.6 999.1,1722.4 1008.8,1737.4 1018.6,1755.2 1028.3,1711.2 1038.0,1719.6 1047.7,1736.5 1057.5,1714.4 1067.2,1758.0 1076.9,1744.0 1086.7,1770.1 1096.4,1769.2 1106.1,1753.3 1115.8,1760.8 1125.6,1774.8 1135.3,1763.6 1145.0,1772.0 1154.7,1758.0 1164.5,1757.0 1174.2,1768.3 1183.9,1738.3 1193.6,1706.5 1203.4,1715.9 1213.1,1709.9 1222.8,1738.3 1232.5,1759.8 1242.3,1753.3 1252.0,1729.0 1261.7,1709.9 1271.4,1716.8 1281.2,1748.6 1290.9,1744.0 1300.6,1730.8 1310.3,1752.4 1320.1,1745.8 1329.8,1736.5 1339.5,1754.2 1349.2,1766.4 1359.0,1763.6 1368.7,1745.8 1378.4,1766.4 1388.1,1770.1 1397.9,1762.3 1407.6,1759.8 1417.3,1763.5 1427.0,1756.0 1436.8,1758.3 1446.5,1746.7 1456.2,1765.8 1465.9,1760.7 1475.7,1781.3 1485.4,1775.7 1495.1,1771.9 1504.8,1770.6 1514.6,1768.2 1524.3,1771.4 1534.0,1784.1 1543.8,1782.6 1553.5,1790.6 1563.2,1787.5 1572.9,1784.1 1582.7,1780.7 1592.4,1782.6 1602.1,1782.2 1611.8,1782.2 1621.6,1778.8 1631.3,1784.1 1641.0,1788.2 1650.7,1786.9 1660.5,1792.7 1670.2,1792.0 1679.9,1792.9 1689.6,1789.9 1699.4,1790.9 1709.1,1793.3 1718.8,1792.1 1728.5,1787.4 1738.3,1791.6 1748.0,1792.0 1757.7,1792.0 1767.4,1789.8 1777.2,1793.4 1786.9,1789.0 1796.6,1790.7 1806.3,1790.6 1816.1,1791.6 1825.8,1792.5 1835.5,1794.2 1845.2,1794.8 1855.0,1795.2 1864.7,1794.5 1874.4,1792.3 1884.1,1795.0 1893.9,1794.9 1903.6,1795.2 1913.3,1795.0 1923.0,1795.0 1932.8,1794.5 1942.5,1791.8 1952.2,1794.9 1962.0,1794.5" stroke="#0AAFF0"/>
<polyline points="191.9,1741.1 201.6,1754.2 211.4,1795.2 221.1,1792.6 230.8,1778.5 240.5,1758.0 250.3,1747.7 260.0,1760.8 269.7,1762.7 279.4,1725.2 289.2,1714.4 298.9,1717.8 308.6,1715.0 318.3,1763.6 328.1,1743.0 337.8,1732.7 347.5,1731.8 357.2,1705.6 367.0,1730.8 376.7,1729.0 386.4,1766.4 396.1,1732.7 405.9,1716.8 415.6,1730.8 425.3,1718.7 435.0,1726.7 444.8,1714.0 454.5,1713.6 464.2,1694.4 473.9,1721.1 483.7,1715.0 493.4,1705.6 503.1,1727.1 512.8,1709.3 522.6,1708.4 532.3,1730.8 542.0,1709.3 551.7,1724.9 561.5,1724.3 571.2,1719.6 580.9,1722.4 590.6,1720.6 600.4,1728.0 610.1,1747.7 619.8,1731.8 629.6,1718.7 639.3,1721.9 649.0,1753.3 658.7,1730.8 668.5,1751.4 678.2,1756.1 687.9,1739.3 697.6,1742.1 707.4,1725.6 717.1,1745.8 726.8,1719.6 736.5,1729.0 746.3,1751.4 756.0,1729.0 765.7,1759.8 775.4,1729.0 785.2,1731.2 794.9,1725.6 804.6,1764.5 814.3,1704.7 824.1,1678.5 833.8,1671.9 843.5,1672.9 853.2,1750.5 863.0,1742.1 872.7,1714.0 882.4,1734.2 892.1,1730.8 901.9,1734.6 911.6,1730.5 921.3,1732.7 931.0,1753.3 940.8,1770.1 950.5,1789.8 960.2,1745.8 969.9,1733.7 979.7,1770.1 989.4,1749.6 999.1,1747.7 1008.8,1757.0 1018.6,1767.3 1028.3,1741.1 1038.0,1745.4 1047.7,1756.1 1057.5,1743.6 1067.2,1772.0 1076.9,1761.7 1086.7,1778.5 1096.4,1778.0 1106.1,1769.2 1115.8,1772.9 1125.6,1782.3 1135.3,1774.2 1145.0,1779.1 1154.7,1771.6 1164.5,1770.1 1174.2,1778.5 1183.9,1756.7 1193.6,1736.1 1203.4,1741.1 1213.1,1736.8 1222.8,1755.5 1232.5,1772.0 1242.3,1768.3 1252.0,1751.4 1261.7,1740.2 1271.4,1745.8 1281.2,1763.6 1290.9,1760.4 1300.6,1752.4 1310.3,1767.3 1320.1,1764.2 1329.8,1757.0 1339.5,1769.2 1349.2,1776.7 1359.0,1774.8 1368.7,1762.7 1378.4,1773.9 1388.1,1778.5 1397.9,1773.9 1407.6,1772.5 1417.3,1773.8 1427.0,1768.2 1436.8,1767.6 1446.5,1763.1 1456.2,1771.9 1465.9,1773.2 1475.7,1785.0 1485.4,1780.7 1495.1,1780.3 1504.8,1780.0 1514.6,1778.1 1524.3,1779.4 1534.0,1788.2 1543.8,1787.8 1553.5,1793.1 1563.2,1790.6 1572.9,1788.2 1582.7,1786.0 1592.4,1787.5 1602.1,1786.9 1611.8,1786.9 1621.6,1784.1 1631.3,1788.2 1641.0,1791.2 1650.7,1790.0 1660.5,1793.9 1670.2,1793.5 1679.9,1794.1 1689.6,1792.1 1699.4,1792.7 1709.1,1794.4 1718.8,1793.5 1728.5,1790.6 1738.3,1793.2 1748.0,1793.5 1757.7,1793.5 1767.4,1792.1 1777.2,1794.4 1786.9,1791.5 1796.6,1792.7 1806.3,1792.6 1816.1,1793.2 1825.8,1793.8 1835.5,1794.8 1845.2,1795.0 1855.0,1795.2 1864.7,1794.9 1874.4,1793.6 1884.1,1795.1 1893.9,1795.1 1903.6,1795.2 1913.3,1795.1 1923.0,1795.1 1932.8,1794.9 1942.5,1793.3 1952.2,1795.1 1962.0,1794.9" stroke="#0A8CE6"/>
<polyline points="191.9,1750.5 201.6,1759.8 211.4,1795.5 221.1,1793.5 230.8,1783.2 240.5,1766.4 250.3,1757.0 260.0,1769.2 269.7,1768.3 279.4,1736.5 289.2,1727.1 298.9,1729.0 308.6,1725.2 318.3,1770.1 328.1,1749.6 337.8,1743.0 347.5,1743.0 357.2,1717.8 367.0,1739.3 376.7,1738.3 386.4,1772.9 396.1,1740.2 405.9,1727.1 415.6,1741.1 425.3,1729.9 435.0,1736.5 444.8,1725.2 454.5,1724.9 464.2,1704.7 473.9,1732.7 483.7,1727.1 493.4,1715.9 503.1,1728.0 512.8,1714.0 522.6,1714.4 532.3,1741.1 542.0,1719.6 551.7,1733.7 561.5,1733.7 571.2,1729.9 580.9,1731.8 590.6,1731.2 600.4,1735.5 610.1,1754.8 619.8,1739.3 629.6,1730.5 639.3,1732.3 649.0,1761.7 658.7,1740.2 668.5,1757.0 678.2,1755.2 687.9,1745.8 697.6,1750.5 707.4,1736.8 717.1,1752.9 726.8,1729.9 736.5,1739.3 746.3,1756.7 756.0,1735.5 765.7,1766.0 775.4,1737.4 785.2,1736.1 794.9,1729.9 804.6,1770.1 814.3,1717.8 824.1,1693.4 833.8,1680.3 843.5,1677.0 853.2,1751.0 863.0,1744.0 872.7,1721.5 882.4,1743.0 892.1,1737.4 901.9,1742.5 911.6,1738.0 921.3,1740.2 931.0,1758.9 940.8,1773.9 950.5,1791.7 960.2,1760.8 969.9,1751.4 979.7,1781.4 989.4,1762.7 999.1,1762.3 1008.8,1770.1 1018.6,1777.6 1028.3,1757.0 1038.0,1759.8 1047.7,1767.3 1057.5,1759.3 1067.2,1782.3 1076.9,1772.0 1086.7,1784.2 1096.4,1784.2 1106.1,1778.5 1115.8,1781.4 1125.6,1787.9 1135.3,1781.7 1145.0,1787.0 1154.7,1780.4 1164.5,1778.5 1174.2,1784.2 1183.9,1768.3 1193.6,1752.4 1203.4,1756.1 1213.1,1752.9 1222.8,1767.3 1232.5,1778.5 1242.3,1775.8 1252.0,1763.6 1261.7,1756.7 1271.4,1760.8 1281.2,1773.5 1290.9,1771.6 1300.6,1764.9 1310.3,1774.8 1320.1,1772.4 1329.8,1767.9 1339.5,1777.6 1349.2,1782.9 1359.0,1781.4 1368.7,1772.0 1378.4,1781.0 1388.1,1785.1 1397.9,1781.4 1407.6,1780.0 1417.3,1780.0 1427.0,1775.7 1436.8,1774.7 1446.5,1772.9 1456.2,1778.1 1465.9,1780.7 1475.7,1788.8 1485.4,1784.5 1495.1,1785.0 1504.8,1785.0 1514.6,1783.7 1524.3,1784.5 1534.0,1790.6 1543.8,1790.1 1553.5,1794.4 1563.2,1793.4 1572.9,1791.2 1582.7,1789.3 1592.4,1790.6 1602.1,1790.1 1611.8,1789.7 1621.6,1788.2 1631.3,1791.2 1641.0,1793.4 1650.7,1791.9 1660.5,1794.6 1670.2,1794.4 1679.9,1794.7 1689.6,1793.4 1699.4,1793.8 1709.1,1794.9 1718.8,1794.4 1728.5,1792.5 1738.3,1794.2 1748.0,1794.4 1757.7,1794.4 1767.4,1793.4 1777.2,1794.9 1786.9,1793.1 1796.6,1793.8 1806.3,1793.8 1816.1,1794.2 1825.8,1794.6 1835.5,1795.1 1845.2,1795.3 1855.0,1795.5 1864.7,1795.1 1874.4,1794.4 1884.1,1795.3 1893.9,1795.3 1903.6,1795.5 1913.3,1795.3 1923.0,1795.3 1932.8,1795.1 1942.5,1794.2 1952.2,1795.3 1962.0,1795.1" stroke="#0550BE"/>
</g>
<line x1="153.05" y1="1796.80" x2="172.45" y2="1796.80" stroke="#2b2b2b" stroke-width="4.4"/>
<line x1="1961.95" y1="1796.80" x2="1981.45" y2="1796.80" stroke="#2b2b2b" stroke-width="4.4"/>
<text transform="translate(142.70,1813.65) scale(1,1.05)" font-size="45.7" text-anchor="end">0</text>
<text transform="translate(1991.35,1813.65) scale(1,1.05)" font-size="45.7">0</text>
<line x1="153.05" y1="1704.41" x2="172.45" y2="1704.41" stroke="#2b2b2b" stroke-width="4.4"/>
<line x1="1961.95" y1="1704.41" x2="1981.45" y2="1704.41" stroke="#2b2b2b" stroke-width="4.4"/>
<text transform="translate(142.70,1721.26) scale(1,1.05)" font-size="45.7" text-anchor="end">5</text>
<text transform="translate(1991.35,1721.26) scale(1,1.05)" font-size="45.7">4</text>
<line x1="153.05" y1="1612.02" x2="172.45" y2="1612.02" stroke="#2b2b2b" stroke-width="4.4"/>
<line x1="1961.95" y1="1612.02" x2="1981.45" y2="1612.02" stroke="#2b2b2b" stroke-width="4.4"/>
<text transform="translate(142.70,1628.87) scale(1,1.05)" font-size="45.7" text-anchor="end">10</text>
<text transform="translate(1991.35,1628.87) scale(1,1.05)" font-size="45.7">8</text>
<line x1="153.05" y1="1519.64" x2="172.45" y2="1519.64" stroke="#2b2b2b" stroke-width="4.4"/>
<line x1="1961.95" y1="1519.64" x2="1981.45" y2="1519.64" stroke="#2b2b2b" stroke-width="4.4"/>
<text transform="translate(142.70,1536.49) scale(1,1.05)" font-size="45.7" text-anchor="end">15</text>
<text transform="translate(1991.35,1536.49) scale(1,1.05)" font-size="45.7">12</text>
<line x1="153.05" y1="1427.25" x2="172.45" y2="1427.25" stroke="#2b2b2b" stroke-width="4.4"/>
<line x1="1961.95" y1="1427.25" x2="1981.45" y2="1427.25" stroke="#2b2b2b" stroke-width="4.4"/>
<text transform="translate(142.70,1444.10) scale(1,1.05)" font-size="45.7" text-anchor="end">20</text>
<text transform="translate(1991.35,1444.10) scale(1,1.05)" font-size="45.7">16</text>
<line x1="172.45" y1="1796.8" x2="172.45" y2="1822.60" stroke="#2b2b2b" stroke-width="4.4"/>
<line x1="473.94" y1="1796.8" x2="473.94" y2="1822.60" stroke="#2b2b2b" stroke-width="4.4"/>
<line x1="765.71" y1="1796.8" x2="765.71" y2="1822.60" stroke="#2b2b2b" stroke-width="4.4"/>
<line x1="1067.20" y1="1796.8" x2="1067.20" y2="1822.60" stroke="#2b2b2b" stroke-width="4.4"/>
<line x1="1368.69" y1="1796.8" x2="1368.69" y2="1822.60" stroke="#2b2b2b" stroke-width="4.4"/>
<line x1="1660.46" y1="1796.8" x2="1660.46" y2="1822.60" stroke="#2b2b2b" stroke-width="4.4"/>
<line x1="1961.95" y1="1796.8" x2="1961.95" y2="1822.60" stroke="#2b2b2b" stroke-width="4.4"/>
<rect x="172.45" y="1427.25" width="1789.50" height="369.55" fill="none" stroke="#000" stroke-width="4.8"/>
<text transform="translate(1941.00,1481.55)" font-size="50.3" text-anchor="end" style="fill:#000000">Trelde</text>
</g>
<g>
<clipPath id="c4"><rect x="172.45" y="1876.7" width="1789.50" height="369.55"/></clipPath>
<polyline points="172.4,1956.5 182.2,1955.2 191.9,1953.8 201.6,1952.5 211.4,1951.3 221.1,1950.0 230.8,1948.7 240.5,1947.4 250.3,1946.2 260.0,1944.9 269.7,1943.7 279.4,1942.5 289.2,1941.3 298.9,1940.1 308.6,1938.9 318.3,1937.8 328.1,1936.7 337.8,1935.6 347.5,1934.5 357.2,1933.5 367.0,1932.4 376.7,1931.4 386.4,1930.4 396.1,1929.5 405.9,1928.6 415.6,1927.7 425.3,1926.8 435.0,1926.0 444.8,1925.1 454.5,1924.4 464.2,1923.6 473.9,1922.9 483.7,1922.2 493.4,1921.5 503.1,1920.9 512.8,1920.3 522.6,1919.7 532.3,1919.2 542.0,1918.7 551.7,1918.3 561.5,1917.8 571.2,1917.4 580.9,1917.1 590.6,1916.7 600.4,1916.4 610.1,1916.2 619.8,1916.0 629.6,1915.8 639.3,1915.6 649.0,1915.5 658.7,1915.4 668.5,1915.4 678.2,1915.3 687.9,1915.4 697.6,1915.4 707.4,1915.5 717.1,1915.6 726.8,1915.8 736.5,1916.0 746.3,1916.2 756.0,1916.4 765.7,1916.7 775.4,1917.1 785.2,1917.4 794.9,1917.8 804.6,1918.2 814.3,1918.7 824.1,1919.2 833.8,1919.7 843.5,1920.2 853.2,1920.8 863.0,1921.4 872.7,1922.0 882.4,1922.7 892.1,1923.4 901.9,1924.1 911.6,1924.9 921.3,1925.7 931.0,1926.5 940.8,1927.3 950.5,1928.2 960.2,1929.1 969.9,1930.0 979.7,1931.0 989.4,1931.9 999.1,1932.9 1008.8,1934.0 1018.6,1935.0 1028.3,1936.1 1038.0,1937.2 1047.7,1938.3 1057.5,1939.4 1067.2,1940.6 1076.9,1941.8 1086.7,1943.0 1096.4,1944.2 1106.1,1945.5 1115.8,1946.7 1125.6,1948.0 1135.3,1949.3 1145.0,1950.6 1154.7,1952.0 1164.5,1953.3 1174.2,1954.7 1183.9,1956.1 1193.6,1957.5 1203.4,1958.9 1213.1,1960.4 1222.8,1961.8 1232.5,1963.3 1242.3,1964.8 1252.0,1966.3 1261.7,1967.8 1271.4,1969.3 1281.2,1970.8 1290.9,1972.4 1300.6,1973.9 1310.3,1975.5 1320.1,1977.1 1329.8,1978.7 1339.5,1980.3 1349.2,1981.9 1359.0,1983.5 1368.7,1985.1 1378.4,1986.8 1388.1,1988.4 1397.9,1990.1 1407.6,1991.8 1417.3,1993.4 1427.0,1995.1 1436.8,1996.8 1446.5,1998.5 1456.2,2000.2 1465.9,2001.9 1475.7,2003.7 1485.4,2005.4 1495.1,2007.1 1504.8,2008.9 1514.6,2010.7 1524.3,2012.4 1534.0,2014.2 1543.8,2016.0 1553.5,2017.8 1563.2,2019.6 1572.9,2021.4 1582.7,2023.2 1592.4,2025.1 1602.1,2026.9 1611.8,2028.8 1621.6,2030.6 1631.3,2032.5 1641.0,2034.4 1650.7,2036.2 1660.5,2038.1 1670.2,2040.0 1679.9,2041.9 1689.6,2043.9 1699.4,2045.8 1709.1,2047.8 1718.8,2049.7 1728.5,2051.7 1738.3,2053.7 1748.0,2055.7 1757.7,2057.7 1767.4,2059.7 1777.2,2061.8 1786.9,2063.8 1796.6,2065.9 1806.3,2068.0 1816.1,2070.1 1825.8,2072.2 1835.5,2074.4 1845.2,2076.6 1855.0,2078.8 1864.7,2081.0 1874.4,2083.2 1884.1,2085.5 1893.9,2087.8 1903.6,2090.1 1913.3,2092.4 1923.0,2094.8 1932.8,2097.2 1942.5,2099.7 1952.2,2102.1" fill="none" stroke="#5f5f5f" stroke-width="4.55" stroke-dasharray="19.3 19.755" stroke-dashoffset="-0.8"/>
<g clip-path="url(#c4)" fill="none" stroke-width="4.0" stroke-linejoin="round">
<polyline points="191.9,2125.3 201.6,2149.7 211.4,2241.3 221.1,2222.6 230.8,2138.4 240.5,2100.1 250.3,2122.5 260.0,2138.1 269.7,2175.9 279.4,2079.5 289.2,2061.4 298.9,2077.6 308.6,2088.9 318.3,2202.0 328.1,2179.6 337.8,2112.2 347.5,2093.5 357.2,2060.2 367.0,2101.0 376.7,2122.5 386.4,2172.1 396.1,2092.0 405.9,2094.5 415.6,2090.2 425.3,2065.5 435.0,2085.1 444.8,2078.2 454.5,2054.6 464.2,2082.3 473.9,2102.9 483.7,2059.5 493.4,2066.4 503.1,2095.4 512.8,2062.7 522.6,2075.8 532.3,2111.9 542.0,2064.5 551.7,2067.7 561.5,2055.8 571.2,2076.7 580.9,2061.7 590.6,2057.6 600.4,2056.5 610.1,2159.0 619.8,2131.0 629.6,2071.5 639.3,2091.7 649.0,2147.8 658.7,2102.9 668.5,2156.2 678.2,2151.2 687.9,2116.0 697.6,2122.5 707.4,2119.7 717.1,2139.4 726.8,2138.1 736.5,2088.9 746.3,2175.9 756.0,2122.5 765.7,2190.8 775.4,2128.2 785.2,2139.9 794.9,2130.0 804.6,2187.1 814.3,2123.5 824.1,2091.7 833.8,2007.5 843.5,2022.5 853.2,2153.4 863.0,2151.2 872.7,2137.5 882.4,2141.8 892.1,2132.8 901.9,2120.1 911.6,2138.8 921.3,2148.7 931.0,2217.9 940.8,2226.4 950.5,2235.7 960.2,2108.1 969.9,2117.9 979.7,2198.3 989.4,2148.7 999.1,2128.7 1008.8,2127.6 1018.6,2128.7 1028.3,2087.6 1038.0,2136.6 1047.7,2177.7 1057.5,2138.8 1067.2,2202.0 1076.9,2159.4 1086.7,2181.1 1096.4,2160.4 1106.1,2166.9 1115.8,2192.2 1125.6,2237.1 1135.3,2237.1 1145.0,2222.1 1154.7,2189.4 1164.5,2185.1 1174.2,2195.0 1183.9,2154.8 1193.6,2113.2 1203.4,2138.3 1213.1,2144.5 1222.8,2169.7 1232.5,2186.2 1242.3,2178.2 1252.0,2141.7 1261.7,2118.8 1271.4,2142.6 1281.2,2192.2 1290.9,2149.2 1300.6,2150.7 1310.3,2192.2 1320.1,2171.6 1329.8,2152.0 1339.5,2189.4 1349.2,2193.7 1359.0,2191.8 1368.7,2163.2 1378.4,2177.2 1388.1,2197.8 1397.9,2180.0 1407.6,2173.0 1417.3,2131.8 1427.0,2161.7 1436.8,2146.4 1446.5,2136.5 1456.2,2189.4 1465.9,2190.2 1475.7,2218.2 1485.4,2202.0 1495.1,2196.3 1504.8,2182.3 1514.6,2194.5 1524.3,2191.7 1534.0,2231.0 1543.8,2210.8 1553.5,2232.8 1563.2,2231.9 1572.9,2222.5 1582.7,2214.1 1592.4,2215.1 1602.1,2217.5 1611.8,2225.7 1621.6,2219.4 1631.3,2222.5 1641.0,2234.7 1650.7,2225.0 1660.5,2237.5 1670.2,2233.2 1679.9,2235.6 1689.6,2228.2 1699.4,2215.1 1709.1,2232.5 1718.8,2234.7 1728.5,2219.7 1738.3,2229.1 1748.0,2232.8 1757.7,2235.1 1767.4,2227.6 1777.2,2241.2 1786.9,2233.8 1796.6,2235.1 1806.3,2229.1 1816.1,2229.5 1825.8,2229.5 1835.5,2244.8 1845.2,2244.8 1855.0,2244.8 1864.7,2243.7 1874.4,2233.8 1884.1,2243.1 1893.9,2244.4 1903.6,2243.1 1913.3,2242.2 1923.0,2242.2 1932.8,2243.7 1942.5,2239.4 1952.2,2238.8 1962.0,2240.3" stroke="#AAE150"/>
<polyline points="191.9,2151.5 201.6,2169.3 211.4,2243.2 221.1,2224.5 230.8,2162.8 240.5,2131.0 250.3,2145.0 260.0,2156.2 269.7,2184.3 279.4,2108.5 289.2,2093.2 298.9,2107.6 308.6,2118.8 318.3,2207.7 328.1,2187.1 337.8,2135.6 347.5,2122.5 357.2,2092.6 367.0,2128.2 376.7,2148.7 386.4,2180.5 396.1,2123.5 405.9,2124.4 415.6,2121.2 425.3,2100.7 435.0,2116.9 444.8,2111.3 454.5,2089.8 464.2,2114.5 473.9,2130.0 483.7,2091.3 493.4,2097.3 503.1,2124.4 512.8,2097.3 522.6,2107.6 532.3,2136.6 542.0,2098.2 551.7,2099.2 561.5,2082.3 571.2,2096.9 580.9,2094.5 590.6,2091.7 600.4,2092.0 610.1,2172.1 619.8,2147.8 629.6,2102.5 639.3,2117.9 649.0,2159.0 658.7,2129.1 668.5,2171.2 678.2,2169.3 687.9,2138.8 697.6,2144.4 707.4,2143.1 717.1,2155.7 726.8,2156.8 736.5,2116.0 746.3,2181.5 756.0,2144.4 765.7,2196.4 775.4,2145.0 785.2,2153.4 794.9,2147.4 804.6,2196.4 814.3,2145.9 824.1,2114.1 833.8,2039.3 843.5,2051.5 853.2,2166.1 863.0,2166.5 872.7,2155.7 882.4,2159.4 892.1,2152.5 901.9,2141.8 911.6,2157.1 921.3,2166.5 931.0,2221.7 940.8,2229.2 950.5,2237.2 960.2,2129.1 969.9,2137.5 979.7,2205.8 989.4,2165.6 999.1,2153.8 1008.8,2145.0 1018.6,2147.8 1028.3,2108.9 1038.0,2149.7 1047.7,2185.2 1057.5,2154.3 1067.2,2207.7 1076.9,2174.0 1086.7,2188.0 1096.4,2175.7 1106.1,2181.9 1115.8,2201.5 1125.6,2238.0 1135.3,2238.0 1145.0,2226.8 1154.7,2203.8 1164.5,2195.5 1174.2,2200.6 1183.9,2166.0 1193.6,2131.4 1203.4,2151.0 1213.1,2158.9 1222.8,2180.0 1232.5,2194.1 1242.3,2185.6 1252.0,2156.6 1261.7,2135.1 1271.4,2155.7 1281.2,2197.8 1290.9,2172.5 1300.6,2165.1 1310.3,2198.7 1320.1,2181.9 1329.8,2166.9 1339.5,2199.7 1349.2,2201.9 1359.0,2201.5 1368.7,2178.2 1378.4,2189.4 1388.1,2205.3 1397.9,2192.2 1407.6,2187.9 1417.3,2146.8 1427.0,2171.5 1436.8,2159.9 1446.5,2151.5 1456.2,2199.5 1465.9,2200.1 1475.7,2221.6 1485.4,2206.6 1495.1,2202.0 1504.8,2192.6 1514.6,2202.9 1524.3,2201.4 1534.0,2231.9 1543.8,2218.8 1553.5,2234.7 1563.2,2233.2 1572.9,2227.2 1582.7,2220.7 1592.4,2221.6 1602.1,2222.0 1611.8,2229.1 1621.6,2223.5 1631.3,2225.7 1641.0,2235.6 1650.7,2224.4 1660.5,2238.4 1670.2,2234.7 1679.9,2236.9 1689.6,2231.0 1699.4,2221.6 1709.1,2234.7 1718.8,2236.2 1728.5,2224.4 1738.3,2231.9 1748.0,2234.7 1757.7,2236.6 1767.4,2231.0 1777.2,2241.8 1786.9,2235.6 1796.6,2236.6 1806.3,2232.5 1816.1,2232.8 1825.8,2232.5 1835.5,2244.8 1845.2,2244.8 1855.0,2244.8 1864.7,2243.9 1874.4,2236.6 1884.1,2243.5 1893.9,2244.6 1903.6,2243.5 1913.3,2242.7 1923.0,2242.7 1932.8,2243.9 1942.5,2240.7 1952.2,2240.3 1962.0,2241.4" stroke="#5AE1AA"/>
<polyline points="191.9,2162.4 201.6,2176.8 211.4,2243.2 221.1,2226.4 230.8,2172.1 240.5,2144.1 250.3,2153.4 260.0,2163.7 269.7,2190.8 279.4,2119.7 289.2,2104.8 298.9,2116.9 308.6,2125.7 318.3,2211.4 328.1,2190.8 337.8,2147.8 347.5,2131.9 357.2,2106.3 367.0,2136.6 376.7,2156.2 386.4,2187.1 396.1,2135.1 405.9,2137.5 415.6,2133.2 425.3,2113.7 435.0,2130.0 444.8,2124.4 454.5,2102.9 464.2,2129.1 473.9,2143.1 483.7,2102.9 493.4,2109.4 503.1,2136.6 512.8,2110.4 522.6,2121.6 532.3,2146.9 542.0,2112.2 551.7,2112.6 561.5,2093.9 571.2,2108.9 580.9,2107.6 590.6,2105.7 600.4,2105.7 610.1,2179.6 619.8,2155.3 629.6,2118.2 639.3,2129.1 649.0,2166.5 658.7,2143.1 668.5,2179.6 678.2,2180.0 687.9,2147.8 697.6,2156.8 707.4,2154.3 717.1,2162.8 726.8,2165.0 736.5,2128.7 746.3,2187.1 756.0,2153.8 765.7,2200.2 775.4,2151.5 785.2,2159.0 794.9,2153.0 804.6,2202.0 814.3,2149.7 824.1,2119.7 833.8,2045.8 843.5,2057.1 853.2,2170.2 863.0,2170.6 872.7,2159.0 882.4,2162.8 892.1,2156.2 901.9,2145.0 911.6,2160.9 921.3,2171.2 931.0,2223.6 940.8,2230.5 950.5,2238.0 960.2,2137.5 969.9,2146.9 979.7,2209.5 989.4,2171.7 999.1,2156.2 1008.8,2153.0 1018.6,2155.3 1028.3,2119.7 1038.0,2156.8 1047.7,2189.0 1057.5,2163.7 1067.2,2210.5 1076.9,2181.1 1086.7,2192.7 1096.4,2181.9 1106.1,2188.4 1115.8,2206.2 1125.6,2238.6 1135.3,2238.6 1145.0,2229.2 1154.7,2210.0 1164.5,2200.6 1174.2,2204.3 1183.9,2172.5 1193.6,2140.7 1203.4,2156.6 1213.1,2166.0 1222.8,2185.6 1232.5,2198.7 1242.3,2191.2 1252.0,2164.1 1261.7,2143.5 1271.4,2162.2 1281.2,2201.5 1290.9,2179.1 1300.6,2173.5 1310.3,2203.4 1320.1,2188.4 1329.8,2175.3 1339.5,2204.9 1349.2,2206.2 1359.0,2205.7 1368.7,2185.6 1378.4,2196.9 1388.1,2210.0 1397.9,2199.7 1407.6,2196.3 1417.3,2158.9 1427.0,2179.5 1436.8,2169.6 1446.5,2161.7 1456.2,2206.6 1465.9,2207.0 1475.7,2225.0 1485.4,2211.9 1495.1,2207.0 1504.8,2200.1 1514.6,2208.9 1524.3,2208.1 1534.0,2232.8 1543.8,2223.5 1553.5,2236.9 1563.2,2235.1 1572.9,2231.0 1582.7,2225.7 1592.4,2226.3 1602.1,2226.8 1611.8,2231.9 1621.6,2227.2 1631.3,2229.1 1641.0,2237.5 1650.7,2229.1 1660.5,2239.9 1670.2,2236.9 1679.9,2238.4 1689.6,2233.8 1699.4,2226.3 1709.1,2236.9 1718.8,2238.1 1728.5,2229.1 1738.3,2234.3 1748.0,2236.6 1757.7,2238.1 1767.4,2233.8 1777.2,2242.2 1786.9,2237.5 1796.6,2238.4 1806.3,2234.7 1816.1,2235.1 1825.8,2234.7 1835.5,2244.8 1845.2,2244.8 1855.0,2244.8 1864.7,2244.1 1874.4,2238.8 1884.1,2243.7 1893.9,2244.6 1903.6,2243.7 1913.3,2243.1 1923.0,2243.1 1932.8,2244.1 1942.5,2241.8 1952.2,2241.4 1962.0,2242.2" stroke="#00E1FF"/>
<polyline points="191.9,2174.9 201.6,2184.3 211.4,2228.2 221.1,2227.3 230.8,2187.1 240.5,2160.9 250.3,2165.6 260.0,2174.9 269.7,2198.3 279.4,2139.4 289.2,2123.1 298.9,2133.8 308.6,2141.2 318.3,2215.1 328.1,2198.3 337.8,2162.8 347.5,2147.8 357.2,2125.3 367.0,2149.7 376.7,2168.4 386.4,2194.6 396.1,2152.5 405.9,2154.3 415.6,2149.7 425.3,2133.8 435.0,2147.8 444.8,2143.7 454.5,2123.5 464.2,2145.0 473.9,2155.7 483.7,2120.7 493.4,2129.1 503.1,2151.2 512.8,2129.1 522.6,2138.4 532.3,2160.9 542.0,2131.0 551.7,2130.0 561.5,2110.8 571.2,2122.5 580.9,2125.3 590.6,2123.5 600.4,2123.1 610.1,2189.0 619.8,2166.5 629.6,2137.5 639.3,2144.4 649.0,2175.9 658.7,2156.2 668.5,2190.8 678.2,2191.8 687.9,2161.3 697.6,2171.2 707.4,2166.9 717.1,2171.7 726.8,2174.0 736.5,2144.4 746.3,2192.7 756.0,2164.6 765.7,2204.9 775.4,2160.0 785.2,2165.6 794.9,2160.0 804.6,2205.8 814.3,2157.1 824.1,2131.0 833.8,2067.7 843.5,2077.1 853.2,2176.8 863.0,2177.7 872.7,2169.3 882.4,2172.1 892.1,2167.4 901.9,2155.3 911.6,2169.9 921.3,2177.7 931.0,2226.0 940.8,2232.0 950.5,2239.1 960.2,2151.5 969.9,2160.0 979.7,2215.1 989.4,2182.4 999.1,2167.4 1008.8,2164.6 1018.6,2166.9 1028.3,2135.6 1038.0,2168.4 1047.7,2196.4 1057.5,2175.9 1067.2,2216.1 1076.9,2190.8 1086.7,2198.3 1096.4,2191.2 1106.1,2197.8 1115.8,2212.8 1125.6,2239.3 1135.3,2239.3 1145.0,2232.4 1154.7,2216.5 1164.5,2207.1 1174.2,2210.0 1183.9,2181.0 1193.6,2154.8 1203.4,2166.0 1213.1,2177.2 1222.8,2193.1 1232.5,2204.3 1242.3,2197.8 1252.0,2177.2 1261.7,2158.5 1271.4,2173.5 1281.2,2208.1 1290.9,2189.4 1300.6,2185.6 1310.3,2210.0 1320.1,2197.8 1329.8,2188.4 1339.5,2211.3 1349.2,2211.3 1359.0,2211.3 1368.7,2198.2 1378.4,2207.1 1388.1,2217.4 1397.9,2210.0 1407.6,2207.6 1417.3,2173.0 1427.0,2187.9 1436.8,2180.4 1446.5,2174.8 1456.2,2214.5 1465.9,2214.1 1475.7,2228.2 1485.4,2218.8 1495.1,2215.1 1504.8,2210.0 1514.6,2216.4 1524.3,2216.9 1534.0,2234.3 1543.8,2229.1 1553.5,2239.4 1563.2,2237.5 1572.9,2234.3 1582.7,2231.0 1592.4,2231.3 1602.1,2231.9 1611.8,2235.1 1621.6,2231.9 1631.3,2233.2 1641.0,2239.4 1650.7,2232.1 1660.5,2241.4 1670.2,2238.9 1679.9,2240.3 1689.6,2236.4 1699.4,2229.9 1709.1,2239.1 1718.8,2240.1 1728.5,2233.2 1738.3,2236.9 1748.0,2238.9 1757.7,2240.1 1767.4,2236.4 1777.2,2242.8 1786.9,2238.8 1796.6,2239.9 1806.3,2236.9 1816.1,2237.5 1825.8,2236.9 1835.5,2244.5 1845.2,2244.5 1855.0,2244.5 1864.7,2244.2 1874.4,2240.2 1884.1,2243.8 1893.9,2244.5 1903.6,2243.8 1913.3,2243.3 1923.0,2243.3 1932.8,2244.2 1942.5,2242.4 1952.2,2242.2 1962.0,2242.8" stroke="#0AAFF0"/>
<polyline points="191.9,2185.2 201.6,2192.7 211.4,2227.3 221.1,2227.9 230.8,2194.6 240.5,2172.1 250.3,2174.9 260.0,2182.4 269.7,2203.9 279.4,2149.7 289.2,2134.3 298.9,2145.0 308.6,2153.4 318.3,2218.9 328.1,2203.9 337.8,2172.1 347.5,2159.0 357.2,2134.7 367.0,2159.0 376.7,2174.9 386.4,2202.0 396.1,2163.7 405.9,2165.0 415.6,2160.9 425.3,2145.0 435.0,2159.0 444.8,2153.4 454.5,2133.8 464.2,2156.2 473.9,2166.5 483.7,2133.2 493.4,2140.7 503.1,2160.9 512.8,2142.6 522.6,2151.2 532.3,2171.2 542.0,2145.0 551.7,2143.7 561.5,2122.5 571.2,2134.7 580.9,2138.8 590.6,2137.5 600.4,2136.9 610.1,2196.4 619.8,2176.8 629.6,2150.6 639.3,2156.8 649.0,2183.3 658.7,2170.6 668.5,2196.4 678.2,2198.3 687.9,2171.2 697.6,2180.5 707.4,2176.8 717.1,2180.0 726.8,2183.0 736.5,2155.3 746.3,2198.7 756.0,2175.9 765.7,2210.5 775.4,2168.4 785.2,2171.2 794.9,2166.9 804.6,2210.5 814.3,2162.8 824.1,2137.5 833.8,2072.0 843.5,2080.4 853.2,2178.7 863.0,2182.4 872.7,2173.0 882.4,2175.9 892.1,2172.1 901.9,2160.9 911.6,2175.9 921.3,2183.0 931.0,2228.2 940.8,2233.8 950.5,2239.8 960.2,2159.0 969.9,2167.4 979.7,2220.8 989.4,2189.0 999.1,2173.0 1008.8,2170.2 1018.6,2173.0 1028.3,2142.6 1038.0,2175.9 1047.7,2203.0 1057.5,2182.4 1067.2,2220.8 1076.9,2195.5 1086.7,2203.0 1096.4,2195.9 1106.1,2202.5 1115.8,2216.5 1125.6,2239.9 1135.3,2239.9 1145.0,2234.3 1154.7,2220.2 1164.5,2210.9 1174.2,2212.8 1183.9,2185.6 1193.6,2160.4 1203.4,2170.7 1213.1,2181.9 1222.8,2196.9 1232.5,2207.1 1242.3,2201.2 1252.0,2182.8 1261.7,2163.7 1271.4,2177.2 1281.2,2211.3 1290.9,2193.1 1300.6,2189.9 1310.3,2212.8 1320.1,2201.5 1329.8,2193.7 1339.5,2214.6 1349.2,2214.2 1359.0,2214.6 1368.7,2201.9 1378.4,2211.3 1388.1,2220.6 1397.9,2213.7 1407.6,2212.2 1417.3,2178.6 1427.0,2192.6 1436.8,2185.1 1446.5,2178.6 1456.2,2218.2 1465.9,2217.9 1475.7,2230.0 1485.4,2222.0 1495.1,2218.2 1504.8,2212.6 1514.6,2219.7 1524.3,2220.1 1534.0,2235.1 1543.8,2231.0 1553.5,2240.7 1563.2,2238.8 1572.9,2236.2 1582.7,2233.2 1592.4,2233.2 1602.1,2233.8 1611.8,2236.6 1621.6,2233.8 1631.3,2235.1 1641.0,2240.3 1650.7,2234.6 1660.5,2242.4 1670.2,2240.3 1679.9,2241.6 1689.6,2238.4 1699.4,2232.7 1709.1,2240.7 1718.8,2241.6 1728.5,2236.2 1738.3,2238.8 1748.0,2240.6 1757.7,2241.6 1767.4,2238.4 1777.2,2243.3 1786.9,2239.8 1796.6,2241.0 1806.3,2238.6 1816.1,2239.3 1825.8,2238.6 1835.5,2244.5 1845.2,2244.5 1855.0,2244.5 1864.7,2244.3 1874.4,2241.4 1884.1,2243.9 1893.9,2244.5 1903.6,2243.9 1913.3,2243.5 1923.0,2243.5 1932.8,2244.3 1942.5,2242.9 1952.2,2242.8 1962.0,2243.3" stroke="#0A8CE6"/>
<polyline points="191.9,2194.2 201.6,2198.3 211.4,2221.7 221.1,2229.2 230.8,2203.0 240.5,2181.5 250.3,2181.5 260.0,2187.1 269.7,2211.4 279.4,2160.9 289.2,2145.0 298.9,2155.3 308.6,2160.9 318.3,2223.6 328.1,2212.3 337.8,2181.5 347.5,2166.5 357.2,2145.0 367.0,2164.6 376.7,2179.6 386.4,2211.4 396.1,2174.0 405.9,2174.9 415.6,2170.2 425.3,2155.3 435.0,2170.6 444.8,2164.6 454.5,2144.1 464.2,2168.4 473.9,2177.7 483.7,2144.1 493.4,2151.5 503.1,2174.4 512.8,2154.3 522.6,2163.7 532.3,2179.6 542.0,2156.2 551.7,2154.9 561.5,2133.2 571.2,2145.0 580.9,2150.0 590.6,2149.3 600.4,2149.3 610.1,2205.8 619.8,2187.1 629.6,2162.8 639.3,2167.4 649.0,2189.0 658.7,2181.5 668.5,2200.2 678.2,2203.9 687.9,2178.7 697.6,2189.0 707.4,2185.6 717.1,2188.0 726.8,2191.8 736.5,2166.5 746.3,2204.9 756.0,2182.4 765.7,2215.1 775.4,2174.4 785.2,2175.9 794.9,2173.0 804.6,2214.2 814.3,2169.3 824.1,2145.0 833.8,2077.6 843.5,2084.2 853.2,2180.5 863.0,2187.1 872.7,2176.8 882.4,2180.0 892.1,2177.7 901.9,2165.6 911.6,2180.5 921.3,2187.1 931.0,2230.1 940.8,2235.7 950.5,2241.0 960.2,2164.6 969.9,2174.9 979.7,2227.3 989.4,2195.5 999.1,2179.2 1008.8,2176.8 1018.6,2180.0 1028.3,2149.7 1038.0,2180.0 1047.7,2209.5 1057.5,2188.0 1067.2,2226.4 1076.9,2200.5 1086.7,2206.7 1096.4,2199.7 1106.1,2209.0 1115.8,2223.0 1125.6,2240.4 1135.3,2240.8 1145.0,2237.1 1154.7,2225.9 1164.5,2215.6 1174.2,2216.1 1183.9,2191.2 1193.6,2166.0 1203.4,2176.3 1213.1,2187.5 1222.8,2200.6 1232.5,2210.0 1242.3,2204.3 1252.0,2188.4 1261.7,2168.8 1271.4,2181.0 1281.2,2215.6 1290.9,2196.9 1300.6,2193.1 1310.3,2215.6 1320.1,2205.3 1329.8,2197.8 1339.5,2218.4 1349.2,2217.4 1359.0,2218.4 1368.7,2205.3 1378.4,2214.6 1388.1,2224.4 1397.9,2217.4 1407.6,2216.9 1417.3,2185.1 1427.0,2197.3 1436.8,2189.4 1446.5,2183.2 1456.2,2221.6 1465.9,2220.7 1475.7,2232.5 1485.4,2225.3 1495.1,2220.7 1504.8,2215.1 1514.6,2222.0 1524.3,2222.5 1534.0,2236.2 1543.8,2232.5 1553.5,2242.2 1563.2,2239.9 1572.9,2238.1 1582.7,2235.1 1592.4,2235.1 1602.1,2235.1 1611.8,2238.1 1621.6,2235.6 1631.3,2236.6 1641.0,2241.8 1650.7,2236.6 1660.5,2243.1 1670.2,2241.4 1679.9,2242.6 1689.6,2239.9 1699.4,2235.1 1709.1,2241.8 1718.8,2242.6 1728.5,2238.4 1738.3,2240.3 1748.0,2241.8 1757.7,2242.6 1767.4,2239.9 1777.2,2243.7 1786.9,2240.7 1796.6,2241.8 1806.3,2239.9 1816.1,2240.7 1825.8,2239.9 1835.5,2244.8 1845.2,2244.8 1855.0,2244.8 1864.7,2244.4 1874.4,2242.2 1884.1,2244.1 1893.9,2244.8 1903.6,2244.1 1913.3,2243.7 1923.0,2243.7 1932.8,2244.4 1942.5,2243.3 1952.2,2243.3 1962.0,2243.7" stroke="#0550BE"/>
</g>
<line x1="153.05" y1="2246.25" x2="172.45" y2="2246.25" stroke="#2b2b2b" stroke-width="4.4"/>
<line x1="1961.95" y1="2246.25" x2="1981.45" y2="2246.25" stroke="#2b2b2b" stroke-width="4.4"/>
<text transform="translate(142.70,2263.10) scale(1,1.05)" font-size="45.7" text-anchor="end">0</text>
<text transform="translate(1991.35,2263.10) scale(1,1.05)" font-size="45.7">0</text>
<line x1="153.05" y1="2153.86" x2="172.45" y2="2153.86" stroke="#2b2b2b" stroke-width="4.4"/>
<line x1="1961.95" y1="2153.86" x2="1981.45" y2="2153.86" stroke="#2b2b2b" stroke-width="4.4"/>
<text transform="translate(142.70,2170.71) scale(1,1.05)" font-size="45.7" text-anchor="end">5</text>
<text transform="translate(1991.35,2170.71) scale(1,1.05)" font-size="45.7">4</text>
<line x1="153.05" y1="2061.47" x2="172.45" y2="2061.47" stroke="#2b2b2b" stroke-width="4.4"/>
<line x1="1961.95" y1="2061.47" x2="1981.45" y2="2061.47" stroke="#2b2b2b" stroke-width="4.4"/>
<text transform="translate(142.70,2078.32) scale(1,1.05)" font-size="45.7" text-anchor="end">10</text>
<text transform="translate(1991.35,2078.32) scale(1,1.05)" font-size="45.7">8</text>
<line x1="153.05" y1="1969.09" x2="172.45" y2="1969.09" stroke="#2b2b2b" stroke-width="4.4"/>
<line x1="1961.95" y1="1969.09" x2="1981.45" y2="1969.09" stroke="#2b2b2b" stroke-width="4.4"/>
<text transform="translate(142.70,1985.94) scale(1,1.05)" font-size="45.7" text-anchor="end">15</text>
<text transform="translate(1991.35,1985.94) scale(1,1.05)" font-size="45.7">12</text>
<line x1="153.05" y1="1876.70" x2="172.45" y2="1876.70" stroke="#2b2b2b" stroke-width="4.4"/>
<line x1="1961.95" y1="1876.70" x2="1981.45" y2="1876.70" stroke="#2b2b2b" stroke-width="4.4"/>
<text transform="translate(142.70,1893.55) scale(1,1.05)" font-size="45.7" text-anchor="end">20</text>
<text transform="translate(1991.35,1893.55) scale(1,1.05)" font-size="45.7">16</text>
<line x1="172.45" y1="2246.25" x2="172.45" y2="2272.05" stroke="#2b2b2b" stroke-width="4.4"/>
<line x1="473.94" y1="2246.25" x2="473.94" y2="2272.05" stroke="#2b2b2b" stroke-width="4.4"/>
<line x1="765.71" y1="2246.25" x2="765.71" y2="2272.05" stroke="#2b2b2b" stroke-width="4.4"/>
<line x1="1067.20" y1="2246.25" x2="1067.20" y2="2272.05" stroke="#2b2b2b" stroke-width="4.4"/>
<line x1="1368.69" y1="2246.25" x2="1368.69" y2="2272.05" stroke="#2b2b2b" stroke-width="4.4"/>
<line x1="1660.46" y1="2246.25" x2="1660.46" y2="2272.05" stroke="#2b2b2b" stroke-width="4.4"/>
<line x1="1961.95" y1="2246.25" x2="1961.95" y2="2272.05" stroke="#2b2b2b" stroke-width="4.4"/>
<rect x="172.45" y="1876.7" width="1789.50" height="369.55" fill="none" stroke="#000" stroke-width="4.8"/>
<text transform="translate(1941.00,1931.00)" font-size="50.3" text-anchor="end" style="fill:#3C3CC8">Træskohage</text>
<text transform="translate(172.45,2315.15) scale(1,1.05)" font-size="45.7" text-anchor="middle">01-05-2023</text>
<text transform="translate(473.94,2315.15) scale(1,1.05)" font-size="45.7" text-anchor="middle">01-06-2023</text>
<text transform="translate(765.71,2315.15) scale(1,1.05)" font-size="45.7" text-anchor="middle">01-07-2023</text>
<text transform="translate(1067.20,2315.15) scale(1,1.05)" font-size="45.7" text-anchor="middle">01-08-2023</text>
<text transform="translate(1368.69,2315.15) scale(1,1.05)" font-size="45.7" text-anchor="middle">01-09-2023</text>
<text transform="translate(1660.46,2315.15) scale(1,1.05)" font-size="45.7" text-anchor="middle">01-10-2023</text>
<text transform="translate(1961.95,2315.15) scale(1,1.05)" font-size="45.7" text-anchor="middle">01-11-2023</text>
</g>
<text transform="translate(57.00,1356.40) rotate(-90) scale(1,1.06)" font-size="54.8" xml:space="preserve" style="white-space:pre">PAR (E  m<tspan font-size="39" dy="-26.5">-2</tspan><tspan dy="26.5"> d</tspan><tspan font-size="39" dy="-26.5">-1</tspan><tspan dy="26.5">)</tspan></text>
<text transform="translate(2077.85,809.10) rotate(90) scale(1,1.035)" font-size="54.9">Ecological day length (hours)</text>
<line x1="486.8" y1="2403" x2="550.4" y2="2403" stroke="#C8000A" stroke-width="10"/>
<text transform="translate(582.80,2418.70) scale(1,1.04)" font-size="45">1.5 m</text>
<line x1="726.1" y1="2403" x2="789.7" y2="2403" stroke="#DC4B03" stroke-width="10"/>
<text transform="translate(822.10,2418.70) scale(1,1.04)" font-size="45">2.0 m</text>
<line x1="965.4" y1="2403" x2="1029.0" y2="2403" stroke="#F0960A" stroke-width="10"/>
<text transform="translate(1061.40,2418.70) scale(1,1.04)" font-size="45">2.5 m</text>
<line x1="1204.7" y1="2403" x2="1268.3" y2="2403" stroke="#FFE200" stroke-width="10"/>
<text transform="translate(1300.70,2418.70) scale(1,1.04)" font-size="45">3.0 m</text>
<line x1="1444.0" y1="2403" x2="1507.6" y2="2403" stroke="#AAE150" stroke-width="10"/>
<text transform="translate(1540.00,2418.70) scale(1,1.04)" font-size="45">3.5 m</text>
<line x1="486.8" y1="2482" x2="550.4" y2="2482" stroke="#5AE1AA" stroke-width="10"/>
<text transform="translate(582.80,2497.70) scale(1,1.04)" font-size="45">4.0 m</text>
<line x1="726.1" y1="2482" x2="789.7" y2="2482" stroke="#00E1FF" stroke-width="10"/>
<text transform="translate(822.10,2497.70) scale(1,1.04)" font-size="45">4.5 m</text>
<line x1="965.4" y1="2482" x2="1029.0" y2="2482" stroke="#0AAFF0" stroke-width="10"/>
<text transform="translate(1061.40,2497.70) scale(1,1.04)" font-size="45">5.0 m</text>
<line x1="1204.7" y1="2482" x2="1268.3" y2="2482" stroke="#0A8CE6" stroke-width="10"/>
<text transform="translate(1300.70,2497.70) scale(1,1.04)" font-size="45">5.5 m</text>
<line x1="1444.0" y1="2482" x2="1507.6" y2="2482" stroke="#0550BE" stroke-width="10"/>
<text transform="translate(1540.00,2497.70) scale(1,1.04)" font-size="45">6.0 m</text>
</svg></body></html>
